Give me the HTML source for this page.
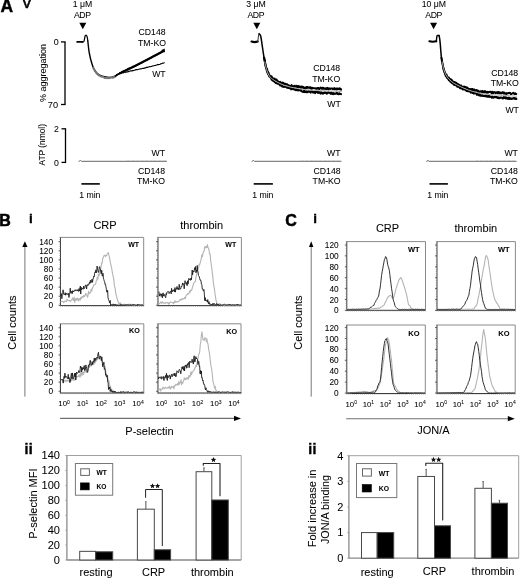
<!DOCTYPE html>
<html><head><meta charset="utf-8"><style>
html,body{margin:0;padding:0;background:#fff;}
svg{display:block;font-family:"Liberation Sans",sans-serif;filter:blur(0.3px);}
text{stroke:#000;stroke-width:0.05px;}
</style></head><body>
<svg width="520" height="579" viewBox="0 0 520 579">
<rect width="520" height="579" fill="#fff"/>
<text x="0.5" y="12.4" font-size="17.5" text-anchor="start" font-weight="bold" fill="#000" style="stroke-width:0.4px">A</text>
<text x="23" y="7.5" font-size="15.5" text-anchor="start" font-weight="normal" fill="#000" style="stroke-width:0.6px">v</text>
<text x="82.5" y="7.4" font-size="8.7" text-anchor="middle" font-weight="normal" fill="#000" >1 μM</text>
<text x="82.5" y="17.8" font-size="8.7" text-anchor="middle" font-weight="normal" fill="#000" textLength="17">ADP</text>
<path d="M79.3,22.8 L86.3,22.8 L82.8,29.3 Z" fill="#000"/>
<text x="256" y="7.4" font-size="8.7" text-anchor="middle" font-weight="normal" fill="#000" >3 μM</text>
<text x="256" y="17.8" font-size="8.7" text-anchor="middle" font-weight="normal" fill="#000" textLength="17">ADP</text>
<path d="M253.3,22.8 L260.3,22.8 L256.8,29.3 Z" fill="#000"/>
<text x="433.8" y="7.4" font-size="8.7" text-anchor="middle" font-weight="normal" fill="#000" >10 μM</text>
<text x="433.8" y="17.8" font-size="8.7" text-anchor="middle" font-weight="normal" fill="#000" textLength="17">ADP</text>
<path d="M430.1,22.8 L437.1,22.8 L433.6,29.3 Z" fill="#000"/>
<line x1="65" y1="41.9" x2="65" y2="104.5" stroke="#000" stroke-width="1.3" />
<line x1="61" y1="41.9" x2="65.6" y2="41.9" stroke="#000" stroke-width="1.3" />
<line x1="61" y1="104.5" x2="65.6" y2="104.5" stroke="#000" stroke-width="1.3" />
<text x="58.6" y="45.0" font-size="8.9" text-anchor="end" font-weight="normal" fill="#000" >0</text>
<text x="58.0" y="108.2" font-size="9.2" text-anchor="end" font-weight="normal" fill="#000" >70</text>
<text transform="translate(45.7,72.9) rotate(-90)" font-size="9" text-anchor="middle">% aggregation</text>
<line x1="65.5" y1="128.8" x2="65.5" y2="162.4" stroke="#000" stroke-width="1.3" />
<line x1="61.5" y1="128.8" x2="66.1" y2="128.8" stroke="#000" stroke-width="1.3" />
<line x1="61.5" y1="162.4" x2="66.1" y2="162.4" stroke="#000" stroke-width="1.3" />
<text x="58.8" y="131.9" font-size="8.7" text-anchor="end" font-weight="normal" fill="#000" >2</text>
<text x="58.8" y="165.5" font-size="8.7" text-anchor="end" font-weight="normal" fill="#000" >0</text>
<text transform="translate(45.2,144.8) rotate(-90)" font-size="8.4" text-anchor="middle">ATP (nmol)</text>
<path d="M77.2,41.9 L82.4,41.9" fill="none" stroke="#000" stroke-width="1.9" stroke-linejoin="round" stroke-linecap="round" />
<path d="M82.40,42.10 C82.65,42.00 83.52,42.18 83.90,41.50 C84.28,40.82 84.47,38.97 84.70,38.00 C84.93,37.03 85.00,36.13 85.30,35.70 C85.60,35.27 86.15,35.02 86.50,35.40 C86.85,35.78 87.18,37.07 87.40,38.00 C87.62,38.93 87.73,40.50 87.80,41.00" fill="none" stroke="#000" stroke-width="1.2" stroke-linejoin="round" stroke-linecap="round" />
<path d="M87.80,41.00 C87.97,42.47 88.47,47.38 88.80,49.80 C89.13,52.22 89.40,53.58 89.80,55.50 C90.20,57.42 90.65,59.37 91.20,61.30 C91.75,63.23 92.38,65.42 93.10,67.10 C93.82,68.78 94.62,70.20 95.50,71.40 C96.38,72.60 97.27,73.50 98.40,74.30 C99.53,75.10 100.85,75.72 102.30,76.20 C103.75,76.68 105.50,77.03 107.10,77.20 C108.70,77.37 110.47,77.45 111.90,77.20 C113.33,76.95 114.42,76.35 115.70,75.70 C116.98,75.05 118.95,73.70 119.60,73.30" fill="none" stroke="#000" stroke-width="1.4" stroke-linejoin="round" stroke-linecap="round" />
<path d="M93.10,67.76 L93.70,68.77 L94.30,69.64 L94.90,71.47 L95.50,71.71 L96.10,72.82 L96.70,73.84 L97.30,73.64 L97.90,74.74 L98.50,75.37 L99.10,75.08 L99.70,75.71 L100.30,76.33 L100.90,76.37 L101.50,76.94 L102.10,76.66 L102.70,76.92 L103.30,76.92 L103.90,77.44 L104.50,77.98 L105.10,77.77 L105.70,78.08 L106.30,77.82 L106.90,78.30 L107.50,77.69 L108.10,77.87 L108.70,78.24 L109.30,78.28 L109.90,77.96 L110.50,77.62 L111.10,77.78 L111.70,77.71 L112.30,77.61 L112.90,77.89 L113.50,77.03 L114.10,77.46 L114.70,77.20 L115.30,76.12" fill="none" stroke="#777" stroke-width="1.8" stroke-linejoin="round" stroke-linecap="round" />
<path d="M115.70,76.02 L116.30,75.64 L116.90,74.65 L117.50,74.30 L118.10,74.46 L118.70,74.02 L119.30,73.60 L119.90,73.00 L120.50,72.87 L121.10,72.53 L121.70,72.18 L122.30,71.54 L122.90,71.40 L123.50,71.03 L124.10,70.92 L124.70,70.82 L125.30,70.52 L125.90,69.97 L126.50,69.64 L127.10,69.26 L127.70,68.83 L128.30,68.56 L128.90,68.61 L129.50,68.24 L130.10,68.02 L130.70,68.12 L131.30,67.60 L131.90,67.36 L132.50,66.87 L133.10,66.46 L133.70,66.41 L134.30,65.99 L134.90,65.94 L135.50,65.98 L136.10,65.44 L136.70,64.79 L137.30,64.98 L137.90,64.60 L138.50,64.25 L139.10,64.06 L139.70,63.65 L140.30,63.36 L140.90,62.75 L141.50,62.88 L142.10,62.56 L142.70,61.69 L143.30,61.79 L143.90,61.46 L144.50,60.97 L145.10,60.71 L145.70,60.38 L146.30,60.37 L146.90,59.77 L147.50,59.69 L148.10,59.05 L148.70,59.10 L149.30,58.80 L149.90,58.17 L150.50,57.93 L151.10,57.86 L151.70,57.41 L152.30,56.93 L152.90,56.43 L153.50,56.19 L154.10,56.13 L154.70,55.44 L155.30,55.65 L155.90,54.89 L156.50,55.02 L157.10,54.28 L157.70,54.42 L158.30,53.93 L158.90,53.47 L159.50,53.17 L160.10,52.95 L160.70,52.59 L161.30,52.08 L161.90,51.69 L162.50,51.59 L163.10,51.57" fill="none" stroke="#000" stroke-width="1.5" stroke-linejoin="round" stroke-linecap="round" />
<path d="M120,73.2 L134,66.4 L148,59.2 L163.6,51" fill="none" stroke="#000" stroke-width="2.2" stroke-linejoin="round" stroke-linecap="round" />
<path d="M161,50.2 L164.6,48.6 L165,52.6 Z" fill="#000"/>
<path d="M115.70,75.59 L116.30,75.20 L116.90,75.21 L117.50,74.57 L118.10,74.55 L118.70,74.16 L119.30,73.68 L119.90,73.72 L120.50,73.26 L121.10,73.32 L121.70,72.93 L122.30,72.77 L122.90,72.79 L123.50,72.86 L124.10,72.26 L124.70,72.17 L125.30,72.29 L125.90,72.36 L126.50,72.01 L127.10,71.78 L127.70,72.00 L128.30,71.32 L128.90,71.68 L129.50,71.21 L130.10,71.00 L130.70,70.86 L131.30,70.85 L131.90,71.03 L132.50,70.52 L133.10,70.64 L133.70,70.55 L134.30,70.25 L134.90,70.22 L135.50,69.79 L136.10,69.66 L136.70,69.61 L137.30,69.75 L137.90,69.47 L138.50,69.26 L139.10,69.29 L139.70,69.07 L140.30,68.84 L140.90,69.00 L141.50,68.81 L142.10,68.40 L142.70,68.46 L143.30,68.29 L143.90,68.36 L144.50,68.14 L145.10,67.74 L145.70,68.01 L146.30,67.36 L146.90,67.40 L147.50,67.47 L148.10,66.97 L148.70,67.01 L149.30,66.58 L149.90,66.81 L150.50,66.71 L151.10,66.44 L151.70,66.46 L152.30,65.97 L152.90,66.04 L153.50,65.82 L154.10,65.66 L154.70,65.43 L155.30,65.50 L155.90,65.41 L156.50,64.97 L157.10,64.93 L157.70,64.41 L158.30,64.64 L158.90,64.45 L159.50,64.50 L160.10,64.24 L160.70,63.76 L161.30,63.67 L161.90,63.68 L162.50,63.13 L163.10,63.24 L163.70,62.91 L164.30,62.72" fill="none" stroke="#000" stroke-width="1.1" stroke-linejoin="round" stroke-linecap="round" />
<path d="M251.5,41.6 Q254.5,42.6 257.7,41.6" fill="none" stroke="#000" stroke-width="2.1" stroke-linejoin="round" stroke-linecap="round" />
<path d="M257.7,42 L258.9,33 L259.6,34" fill="none" stroke="#333" stroke-width="1.0" stroke-linejoin="round" stroke-linecap="round" />
<path d="M259.60,34.20 C259.80,34.58 260.42,34.97 260.80,36.50 C261.18,38.03 261.53,40.98 261.90,43.40 C262.27,45.82 262.63,48.55 263.00,51.00 C263.37,53.45 263.92,56.92 264.10,58.10" fill="none" stroke="#000" stroke-width="1.5" stroke-linejoin="round" stroke-linecap="round" />
<path d="M264.10,57.68 L264.60,60.60 L265.10,62.74 L265.60,65.54 L266.10,68.00 L266.60,68.23 L267.10,69.27 L267.60,71.71 L268.10,71.91 L268.60,73.00 L269.10,75.34 L269.60,75.20 L270.10,76.21 L270.60,76.05 L271.10,76.73 L271.60,76.37 L272.10,77.56 L272.60,78.35 L273.10,78.22 L273.60,78.98 L274.10,79.29 L274.60,78.60 L275.10,79.96 L275.60,79.95 L276.10,79.73 L276.60,79.55 L277.10,81.13 L277.60,80.76 L278.10,81.40 L278.60,81.91 L279.10,81.89 L279.60,82.47 L280.10,81.88 L280.60,82.78 L281.10,82.46 L281.60,83.50 L282.10,83.66 L282.60,82.57 L283.10,82.78 L283.60,83.06 L284.10,84.41 L284.60,83.71 L285.10,84.16 L285.60,83.79 L286.10,84.27 L286.60,84.22 L287.10,84.31 L287.60,84.84 L288.10,84.98 L288.60,85.64 L289.10,85.44 L289.60,85.98 L290.10,86.01 L290.60,86.33 L291.10,85.90 L291.60,85.16 L292.10,86.36 L292.60,86.60 L293.10,86.58 L293.60,86.12 L294.10,86.43 L294.60,85.70 L295.10,86.77 L295.60,86.44 L296.10,86.06 L296.60,85.78 L297.10,87.12 L297.60,87.42 L298.10,86.05 L298.60,87.27 L299.10,86.72 L299.60,86.38 L300.10,86.69 L300.60,87.53 L301.10,87.77 L301.60,86.52 L302.10,87.51 L302.60,86.68 L303.10,87.83 L303.60,87.25 L304.10,88.16 L304.60,88.35 L305.10,87.61 L305.60,88.43 L306.10,87.36 L306.60,87.01 L307.10,87.88 L307.60,86.99 L308.10,87.29 L308.60,87.65 L309.10,88.00 L309.60,87.31 L310.10,87.15 L310.60,88.50 L311.10,87.64 L311.60,88.70 L312.10,88.63 L312.60,87.83 L313.10,87.99 L313.60,88.11 L314.10,88.34 L314.60,88.29 L315.10,88.26 L315.60,88.38 L316.10,88.92 L316.60,88.26 L317.10,88.16 L317.60,88.65 L318.10,87.91 L318.60,88.04 L319.10,89.15 L319.60,88.44 L320.10,88.50 L320.60,87.66 L321.10,88.32 L321.60,88.60 L322.10,87.72 L322.60,88.69 L323.10,88.73 L323.60,87.83 L324.10,88.75 L324.60,88.51 L325.10,88.87 L325.60,88.36 L326.10,88.94 L326.60,89.01 L327.10,87.88 L327.60,87.96 L328.10,88.96 L328.60,89.43 L329.10,88.31 L329.60,88.65 L330.10,88.89 L330.60,88.47 L331.10,88.55 L331.60,88.49 L332.10,88.59 L332.60,88.97 L333.10,88.51 L333.60,88.65 L334.10,89.30 L334.60,88.12 L335.10,89.01 L335.60,89.29 L336.10,88.62 L336.60,88.50 L337.10,89.45 L337.60,88.56 L338.10,88.49 L338.60,88.90 L339.10,89.34 L339.60,88.40 L340.10,88.77 L340.60,88.81 L341.10,89.62" fill="none" stroke="#000" stroke-width="2.0" stroke-linejoin="round" stroke-linecap="round" />
<path d="M264.10,57.68 L264.60,60.09 L265.10,63.18 L265.60,65.42 L266.10,67.91 L266.60,69.71 L267.10,71.80 L267.60,72.88 L268.10,74.09 L268.60,74.48 L269.10,76.25 L269.60,76.64 L270.10,76.96 L270.60,77.34 L271.10,78.01 L271.60,79.64 L272.10,79.97 L272.60,80.42 L273.10,80.90 L273.60,80.42 L274.10,81.10 L274.60,81.92 L275.10,82.37 L275.60,82.84 L276.10,83.15 L276.60,82.16 L277.10,83.26 L277.60,83.64 L278.10,83.65 L278.60,83.40 L279.10,84.15 L279.60,83.81 L280.10,85.44 L280.60,85.60 L281.10,85.37 L281.60,85.25 L282.10,86.50 L282.60,86.14 L283.10,86.79 L283.60,86.89 L284.10,86.50 L284.60,86.50 L285.10,86.95 L285.60,86.84 L286.10,86.56 L286.60,86.95 L287.10,87.91 L287.60,86.84 L288.10,87.00 L288.60,88.08 L289.10,87.68 L289.60,88.24 L290.10,88.29 L290.60,88.21 L291.10,89.37 L291.60,88.20 L292.10,88.65 L292.60,88.42 L293.10,89.22 L293.60,88.76 L294.10,88.99 L294.60,89.73 L295.10,89.15 L295.60,89.64 L296.10,90.31 L296.60,89.13 L297.10,89.17 L297.60,89.55 L298.10,90.52 L298.60,90.39 L299.10,89.89 L299.60,90.15 L300.10,90.01 L300.60,90.57 L301.10,90.01 L301.60,91.17 L302.10,91.59 L302.60,91.80 L303.10,91.55 L303.60,91.98 L304.10,90.52 L304.60,91.00 L305.10,92.13 L305.60,91.88 L306.10,91.34 L306.60,92.25 L307.10,91.78 L307.60,92.14 L308.10,91.35 L308.60,91.24 L309.10,91.69 L309.60,91.25 L310.10,91.69 L310.60,92.67 L311.10,91.71 L311.60,91.24 L312.10,91.35 L312.60,91.60 L313.10,92.63 L313.60,92.01 L314.10,91.94 L314.60,91.68 L315.10,93.15 L315.60,92.30 L316.10,92.01 L316.60,91.82 L317.10,91.86 L317.60,92.09 L318.10,92.95 L318.60,92.16 L319.10,92.04 L319.60,92.79 L320.10,92.42 L320.60,93.64 L321.10,92.26 L321.60,92.93 L322.10,93.34 L322.60,92.77 L323.10,93.71 L323.60,92.92 L324.10,92.56 L324.60,92.85 L325.10,92.27 L325.60,92.90 L326.10,92.64 L326.60,93.68 L327.10,93.61 L327.60,93.09 L328.10,92.37 L328.60,92.74 L329.10,92.74 L329.60,92.70 L330.10,92.76 L330.60,93.80 L331.10,92.65 L331.60,92.52 L332.10,93.94 L332.60,93.38 L333.10,94.08 L333.60,93.16 L334.10,93.97 L334.60,93.60 L335.10,93.83 L335.60,93.78 L336.10,93.40 L336.60,92.77 L337.10,92.98 L337.60,94.06 L338.10,94.12 L338.60,94.17 L339.10,93.25 L339.60,93.78 L340.10,94.03 L340.60,93.80 L341.10,94.09" fill="none" stroke="#000" stroke-width="2.0" stroke-linejoin="round" stroke-linecap="round" />
<path d="M264.80,62.00 C265.10,63.25 265.85,67.17 266.60,69.50 C267.35,71.83 268.03,74.20 269.30,76.00 C270.57,77.80 272.05,78.88 274.20,80.30 C276.35,81.72 279.52,83.38 282.20,84.50 C284.88,85.62 286.80,86.18 290.30,87.00 C293.80,87.82 298.35,88.80 303.20,89.40 C308.05,90.00 313.02,90.27 319.40,90.60 C325.78,90.93 337.82,91.27 341.50,91.40" fill="none" stroke="#aaa" stroke-width="1.0" stroke-linejoin="round" stroke-linecap="round" />
<path d="M429.4,41.3 Q432.5,42.2 436.3,41.3" fill="none" stroke="#000" stroke-width="2.1" stroke-linejoin="round" stroke-linecap="round" />
<path d="M436.3,41.5 L436.9,36 L437.5,35.4 L439,35.5" fill="none" stroke="#000" stroke-width="1.4" stroke-linejoin="round" stroke-linecap="round" />
<path d="M439.00,35.50 C439.10,35.92 439.40,36.68 439.60,38.00 C439.80,39.32 440.02,41.48 440.20,43.40 C440.38,45.32 440.50,47.20 440.70,49.50 C440.90,51.80 440.97,54.15 441.40,57.20 C441.83,60.25 442.98,66.03 443.30,67.80" fill="none" stroke="#000" stroke-width="1.5" stroke-linejoin="round" stroke-linecap="round" />
<path d="M443.30,68.00 L443.80,69.52 L444.30,70.94 L444.80,72.51 L445.30,73.52 L445.80,75.00 L446.30,74.22 L446.80,75.55 L447.30,76.96 L447.80,77.13 L448.30,78.17 L448.80,77.55 L449.30,78.58 L449.80,78.63 L450.30,79.51 L450.80,79.97 L451.30,79.48 L451.80,80.21 L452.30,80.72 L452.80,82.15 L453.30,82.32 L453.80,81.76 L454.30,83.03 L454.80,82.22 L455.30,83.24 L455.80,82.70 L456.30,82.75 L456.80,84.39 L457.30,83.59 L457.80,83.84 L458.30,85.32 L458.80,85.40 L459.30,84.71 L459.80,86.04 L460.30,85.60 L460.80,86.03 L461.30,85.48 L461.80,86.86 L462.30,86.66 L462.80,87.31 L463.30,87.39 L463.80,86.64 L464.30,86.95 L464.80,86.84 L465.30,87.01 L465.80,87.09 L466.30,87.67 L466.80,88.35 L467.30,87.60 L467.80,88.88 L468.30,88.54 L468.80,88.62 L469.30,89.56 L469.80,89.14 L470.30,89.00 L470.80,89.39 L471.30,89.87 L471.80,88.96 L472.30,90.55 L472.80,89.15 L473.30,90.44 L473.80,90.71 L474.30,89.51 L474.80,90.87 L475.30,90.32 L475.80,90.78 L476.30,89.99 L476.80,90.18 L477.30,90.52 L477.80,91.88 L478.30,90.74 L478.80,91.69 L479.30,92.01 L479.80,92.08 L480.30,91.17 L480.80,91.24 L481.30,91.56 L481.80,92.01 L482.30,90.99 L482.80,92.06 L483.30,92.19 L483.80,92.34 L484.30,91.07 L484.80,92.58 L485.30,91.26 L485.80,91.70 L486.30,92.19 L486.80,92.73 L487.30,91.85 L487.80,92.83 L488.30,92.27 L488.80,91.95 L489.30,92.01 L489.80,91.81 L490.30,91.67 L490.80,91.80 L491.30,92.69 L491.80,93.21 L492.30,91.89 L492.80,91.73 L493.30,93.26 L493.80,92.55 L494.30,92.37 L494.80,92.12 L495.30,92.72 L495.80,93.11 L496.30,92.54 L496.80,92.51 L497.30,91.94 L497.80,93.34 L498.30,91.95 L498.80,92.71 L499.30,93.28 L499.80,92.17 L500.30,93.16 L500.80,93.53 L501.30,93.04 L501.80,93.32 L502.30,92.26 L502.80,92.81 L503.30,92.37 L503.80,93.51 L504.30,92.66 L504.80,92.94 L505.30,93.84 L505.80,93.63 L506.30,93.85 L506.80,93.04 L507.30,93.12 L507.80,93.53 L508.30,93.15 L508.80,92.88 L509.30,93.08 L509.80,92.70 L510.30,93.09 L510.80,94.09 L511.30,94.07 L511.80,93.57 L512.30,93.39 L512.80,93.16 L513.30,92.78 L513.80,93.10 L514.30,93.94 L514.80,94.10 L515.30,93.32 L515.80,94.02 L516.30,94.03" fill="none" stroke="#000" stroke-width="2.0" stroke-linejoin="round" stroke-linecap="round" />
<path d="M441.40,57.67 L441.90,60.72 L442.40,63.18 L442.90,65.82 L443.40,68.09 L443.90,70.59 L444.40,71.71 L444.90,73.62 L445.40,74.43 L445.90,76.21 L446.40,76.10 L446.90,77.63 L447.40,78.21 L447.90,78.39 L448.40,79.27 L448.90,80.19 L449.40,79.85 L449.90,80.86 L450.40,81.70 L450.90,81.28 L451.40,82.58 L451.90,82.83 L452.40,83.52 L452.90,83.15 L453.40,83.20 L453.90,84.73 L454.40,85.00 L454.90,84.68 L455.40,84.38 L455.90,84.80 L456.40,85.76 L456.90,85.46 L457.40,86.78 L457.90,86.46 L458.40,86.09 L458.90,87.08 L459.40,86.86 L459.90,88.04 L460.40,88.25 L460.90,87.84 L461.40,88.28 L461.90,88.59 L462.40,88.99 L462.90,89.50 L463.40,88.21 L463.90,88.97 L464.40,89.58 L464.90,89.33 L465.40,90.02 L465.90,89.45 L466.40,90.94 L466.90,90.60 L467.40,90.18 L467.90,91.28 L468.40,90.93 L468.90,90.91 L469.40,91.54 L469.90,91.15 L470.40,91.43 L470.90,92.64 L471.40,92.54 L471.90,91.61 L472.40,93.00 L472.90,91.94 L473.40,92.62 L473.90,93.69 L474.40,93.40 L474.90,93.07 L475.40,93.35 L475.90,93.53 L476.40,93.28 L476.90,94.84 L477.40,93.49 L477.90,94.24 L478.40,94.88 L478.90,94.43 L479.40,95.47 L479.90,94.40 L480.40,95.68 L480.90,95.64 L481.40,95.39 L481.90,95.85 L482.40,95.25 L482.90,95.97 L483.40,96.02 L483.90,95.68 L484.40,95.71 L484.90,96.19 L485.40,95.83 L485.90,95.42 L486.40,96.58 L486.90,95.92 L487.40,96.38 L487.90,96.96 L488.40,96.08 L488.90,95.95 L489.40,96.21 L489.90,96.99 L490.40,96.67 L490.90,96.54 L491.40,96.89 L491.90,97.69 L492.40,96.65 L492.90,96.94 L493.40,97.73 L493.90,97.35 L494.40,96.83 L494.90,97.21 L495.40,97.25 L495.90,96.75 L496.40,97.17 L496.90,97.09 L497.40,97.93 L497.90,97.20 L498.40,97.78 L498.90,98.32 L499.40,98.28 L499.90,97.45 L500.40,97.85 L500.90,97.43 L501.40,97.59 L501.90,97.77 L502.40,98.29 L502.90,98.56 L503.40,97.56 L503.90,97.14 L504.40,97.88 L504.90,97.29 L505.40,97.28 L505.90,98.50 L506.40,97.48 L506.90,98.49 L507.40,97.95 L507.90,98.91 L508.40,98.81 L508.90,97.57 L509.40,97.82 L509.90,99.06 L510.40,98.56 L510.90,98.29 L511.40,98.90 L511.90,98.98 L512.40,98.50 L512.90,98.50 L513.40,97.95 L513.90,98.40 L514.40,98.09 L514.90,98.89 L515.40,98.89 L515.90,98.19 L516.40,99.00" fill="none" stroke="#000" stroke-width="2.0" stroke-linejoin="round" stroke-linecap="round" />
<path d="M442.20,62.00 C442.47,63.25 443.17,67.33 443.80,69.50 C444.43,71.67 445.15,73.40 446.00,75.00 C446.85,76.60 447.60,77.73 448.90,79.10 C450.20,80.47 451.92,81.97 453.80,83.20 C455.68,84.43 457.78,85.37 460.20,86.50 C462.62,87.63 465.33,88.95 468.30,90.00 C471.27,91.05 474.50,92.05 478.00,92.80 C481.50,93.55 485.53,94.10 489.30,94.50 C493.07,94.90 496.07,94.92 500.60,95.20 C505.13,95.48 513.85,96.03 516.50,96.20" fill="none" stroke="#aaa" stroke-width="1.0" stroke-linejoin="round" stroke-linecap="round" />
<text x="165.6" y="34.8" font-size="8.7" text-anchor="end" font-weight="normal" fill="#000" >CD148</text>
<text x="166.0" y="45.9" font-size="8.7" text-anchor="end" font-weight="normal" fill="#000" >TM-KO</text>
<text x="165.7" y="77" font-size="8.7" text-anchor="end" font-weight="normal" fill="#000" >WT</text>
<text x="340.2" y="71.1" font-size="8.7" text-anchor="end" font-weight="normal" fill="#000" >CD148</text>
<text x="340.2" y="81.6" font-size="8.7" text-anchor="end" font-weight="normal" fill="#000" >TM-KO</text>
<text x="340.8" y="106.5" font-size="8.7" text-anchor="end" font-weight="normal" fill="#000" >WT</text>
<text x="518.2" y="75.9" font-size="8.7" text-anchor="end" font-weight="normal" fill="#000" >CD148</text>
<text x="518.8" y="86.4" font-size="8.7" text-anchor="end" font-weight="normal" fill="#000" >TM-KO</text>
<text x="518.9" y="112.5" font-size="8.7" text-anchor="end" font-weight="normal" fill="#000" >WT</text>
<path d="M79,161.3 l1.5,-0.8 l1,0.8 L166.5,161.3" fill="none" stroke="#555" stroke-width="0.9" stroke-linejoin="round" stroke-linecap="round" />
<path d="M127.125,161.3 L166.5,161.3" fill="none" stroke="#888" stroke-width="1.0" stroke-linejoin="round" stroke-linecap="round" stroke-dasharray="2.5,2"/>
<text x="165" y="156.3" font-size="8.7" text-anchor="end" font-weight="normal" fill="#000" >WT</text>
<text x="165" y="173.9" font-size="8.7" text-anchor="end" font-weight="normal" fill="#000" >CD148</text>
<text x="165" y="184.1" font-size="8.7" text-anchor="end" font-weight="normal" fill="#000" >TM-KO</text>
<line x1="81.4" y1="183.9" x2="99.8" y2="183.9" stroke="#000" stroke-width="1.6" />
<text x="79.2" y="197.6" font-size="8.7" text-anchor="start" font-weight="normal" fill="#000" >1 min</text>
<path d="M252,161.3 l1.5,-0.8 l1,0.8 L341,161.3" fill="none" stroke="#555" stroke-width="0.9" stroke-linejoin="round" stroke-linecap="round" />
<path d="M300.95,161.3 L341,161.3" fill="none" stroke="#888" stroke-width="1.0" stroke-linejoin="round" stroke-linecap="round" stroke-dasharray="2.5,2"/>
<text x="340.6" y="156.3" font-size="8.7" text-anchor="end" font-weight="normal" fill="#000" >WT</text>
<text x="340.6" y="173.9" font-size="8.7" text-anchor="end" font-weight="normal" fill="#000" >CD148</text>
<text x="340.6" y="184.1" font-size="8.7" text-anchor="end" font-weight="normal" fill="#000" >TM-KO</text>
<line x1="253.7" y1="183.9" x2="272.90000000000003" y2="183.9" stroke="#000" stroke-width="1.6" />
<text x="252.2" y="197.6" font-size="8.7" text-anchor="start" font-weight="normal" fill="#000" >1 min</text>
<path d="M426.6,161.3 l1.5,-0.8 l1,0.8 L516.2,161.3" fill="none" stroke="#555" stroke-width="0.9" stroke-linejoin="round" stroke-linecap="round" />
<path d="M475.88000000000005,161.3 L516.2,161.3" fill="none" stroke="#888" stroke-width="1.0" stroke-linejoin="round" stroke-linecap="round" stroke-dasharray="2.5,2"/>
<text x="517.9" y="156.3" font-size="8.7" text-anchor="end" font-weight="normal" fill="#000" >WT</text>
<text x="517.9" y="173.9" font-size="8.7" text-anchor="end" font-weight="normal" fill="#000" >CD148</text>
<text x="517.9" y="184.1" font-size="8.7" text-anchor="end" font-weight="normal" fill="#000" >TM-KO</text>
<line x1="429.5" y1="183.9" x2="447.90000000000003" y2="183.9" stroke="#000" stroke-width="1.6" />
<text x="427.2" y="197.6" font-size="8.7" text-anchor="start" font-weight="normal" fill="#000" >1 min</text>
<text x="-0.7" y="226.0" font-size="16" text-anchor="start" font-weight="bold" fill="#000" style="stroke-width:0.5px">B</text>
<text x="28.9" y="223.4" font-size="13.5" text-anchor="start" font-weight="bold" fill="#000" style="stroke-width:0.3px">i</text>
<text x="285.3" y="226.2" font-size="16" text-anchor="start" font-weight="bold" fill="#000" style="stroke-width:0.5px">C</text>
<text x="313.3" y="223.2" font-size="13.5" text-anchor="start" font-weight="bold" fill="#000" style="stroke-width:0.3px">i</text>
<text x="105" y="228.8" font-size="11" text-anchor="middle" font-weight="normal" fill="#000" >CRP</text>
<text x="201.7" y="228.8" font-size="11" text-anchor="middle" font-weight="normal" fill="#000" >thrombin</text>
<text x="387.5" y="231.8" font-size="11" text-anchor="middle" font-weight="normal" fill="#000" >CRP</text>
<text x="475.8" y="231.8" font-size="11" text-anchor="middle" font-weight="normal" fill="#000" >thrombin</text>
<line x1="60.5" y1="237.4" x2="143.7" y2="237.4" stroke="#8a8a8a" stroke-width="1.0" />
<line x1="143.7" y1="237.4" x2="143.7" y2="305.6" stroke="#8a8a8a" stroke-width="1.0" />
<line x1="60.5" y1="237.4" x2="60.5" y2="305.6" stroke="#444" stroke-width="1.0" />
<line x1="60.5" y1="305.6" x2="143.7" y2="305.6" stroke="#333" stroke-width="1.0" />
<line x1="59.3" y1="237.4" x2="60.5" y2="237.4" stroke="#666" stroke-width="0.5" />
<line x1="59.3" y1="239.67333333333335" x2="60.5" y2="239.67333333333335" stroke="#666" stroke-width="0.5" />
<line x1="59.3" y1="241.9466666666667" x2="60.5" y2="241.9466666666667" stroke="#666" stroke-width="0.5" />
<line x1="59.3" y1="244.22" x2="60.5" y2="244.22" stroke="#666" stroke-width="0.5" />
<line x1="59.3" y1="246.49333333333334" x2="60.5" y2="246.49333333333334" stroke="#666" stroke-width="0.5" />
<line x1="59.3" y1="248.76666666666668" x2="60.5" y2="248.76666666666668" stroke="#666" stroke-width="0.5" />
<line x1="59.3" y1="251.04000000000002" x2="60.5" y2="251.04000000000002" stroke="#666" stroke-width="0.5" />
<line x1="59.3" y1="253.31333333333333" x2="60.5" y2="253.31333333333333" stroke="#666" stroke-width="0.5" />
<line x1="59.3" y1="255.58666666666667" x2="60.5" y2="255.58666666666667" stroke="#666" stroke-width="0.5" />
<line x1="59.3" y1="257.86" x2="60.5" y2="257.86" stroke="#666" stroke-width="0.5" />
<line x1="59.3" y1="260.1333333333333" x2="60.5" y2="260.1333333333333" stroke="#666" stroke-width="0.5" />
<line x1="59.3" y1="262.4066666666667" x2="60.5" y2="262.4066666666667" stroke="#666" stroke-width="0.5" />
<line x1="59.3" y1="264.68" x2="60.5" y2="264.68" stroke="#666" stroke-width="0.5" />
<line x1="59.3" y1="266.9533333333334" x2="60.5" y2="266.9533333333334" stroke="#666" stroke-width="0.5" />
<line x1="59.3" y1="269.2266666666667" x2="60.5" y2="269.2266666666667" stroke="#666" stroke-width="0.5" />
<line x1="59.3" y1="271.5" x2="60.5" y2="271.5" stroke="#666" stroke-width="0.5" />
<line x1="59.3" y1="273.77333333333337" x2="60.5" y2="273.77333333333337" stroke="#666" stroke-width="0.5" />
<line x1="59.3" y1="276.0466666666667" x2="60.5" y2="276.0466666666667" stroke="#666" stroke-width="0.5" />
<line x1="59.3" y1="278.32" x2="60.5" y2="278.32" stroke="#666" stroke-width="0.5" />
<line x1="59.3" y1="280.59333333333336" x2="60.5" y2="280.59333333333336" stroke="#666" stroke-width="0.5" />
<line x1="59.3" y1="282.8666666666667" x2="60.5" y2="282.8666666666667" stroke="#666" stroke-width="0.5" />
<line x1="59.3" y1="285.14" x2="60.5" y2="285.14" stroke="#666" stroke-width="0.5" />
<line x1="59.3" y1="287.41333333333336" x2="60.5" y2="287.41333333333336" stroke="#666" stroke-width="0.5" />
<line x1="59.3" y1="289.68666666666667" x2="60.5" y2="289.68666666666667" stroke="#666" stroke-width="0.5" />
<line x1="59.3" y1="291.96000000000004" x2="60.5" y2="291.96000000000004" stroke="#666" stroke-width="0.5" />
<line x1="59.3" y1="294.23333333333335" x2="60.5" y2="294.23333333333335" stroke="#666" stroke-width="0.5" />
<line x1="59.3" y1="296.50666666666666" x2="60.5" y2="296.50666666666666" stroke="#666" stroke-width="0.5" />
<line x1="59.3" y1="298.78000000000003" x2="60.5" y2="298.78000000000003" stroke="#666" stroke-width="0.5" />
<line x1="59.3" y1="301.05333333333334" x2="60.5" y2="301.05333333333334" stroke="#666" stroke-width="0.5" />
<line x1="59.3" y1="303.3266666666667" x2="60.5" y2="303.3266666666667" stroke="#666" stroke-width="0.5" />
<line x1="59.3" y1="305.6" x2="60.5" y2="305.6" stroke="#666" stroke-width="0.5" />
<line x1="60.5" y1="305.6" x2="60.5" y2="306.8" stroke="#777" stroke-width="0.5" />
<line x1="62.58" y1="305.6" x2="62.58" y2="306.8" stroke="#777" stroke-width="0.5" />
<line x1="64.66" y1="305.6" x2="64.66" y2="306.8" stroke="#777" stroke-width="0.5" />
<line x1="66.74" y1="305.6" x2="66.74" y2="306.8" stroke="#777" stroke-width="0.5" />
<line x1="68.82" y1="305.6" x2="68.82" y2="306.8" stroke="#777" stroke-width="0.5" />
<line x1="70.9" y1="305.6" x2="70.9" y2="306.8" stroke="#777" stroke-width="0.5" />
<line x1="72.98" y1="305.6" x2="72.98" y2="306.8" stroke="#777" stroke-width="0.5" />
<line x1="75.06" y1="305.6" x2="75.06" y2="306.8" stroke="#777" stroke-width="0.5" />
<line x1="77.14" y1="305.6" x2="77.14" y2="306.8" stroke="#777" stroke-width="0.5" />
<line x1="79.22" y1="305.6" x2="79.22" y2="306.8" stroke="#777" stroke-width="0.5" />
<line x1="81.3" y1="305.6" x2="81.3" y2="306.8" stroke="#777" stroke-width="0.5" />
<line x1="83.38" y1="305.6" x2="83.38" y2="306.8" stroke="#777" stroke-width="0.5" />
<line x1="85.46" y1="305.6" x2="85.46" y2="306.8" stroke="#777" stroke-width="0.5" />
<line x1="87.53999999999999" y1="305.6" x2="87.53999999999999" y2="306.8" stroke="#777" stroke-width="0.5" />
<line x1="89.61999999999999" y1="305.6" x2="89.61999999999999" y2="306.8" stroke="#777" stroke-width="0.5" />
<line x1="91.69999999999999" y1="305.6" x2="91.69999999999999" y2="306.8" stroke="#777" stroke-width="0.5" />
<line x1="93.78" y1="305.6" x2="93.78" y2="306.8" stroke="#777" stroke-width="0.5" />
<line x1="95.86" y1="305.6" x2="95.86" y2="306.8" stroke="#777" stroke-width="0.5" />
<line x1="97.94" y1="305.6" x2="97.94" y2="306.8" stroke="#777" stroke-width="0.5" />
<line x1="100.02" y1="305.6" x2="100.02" y2="306.8" stroke="#777" stroke-width="0.5" />
<line x1="102.1" y1="305.6" x2="102.1" y2="306.8" stroke="#777" stroke-width="0.5" />
<line x1="104.17999999999999" y1="305.6" x2="104.17999999999999" y2="306.8" stroke="#777" stroke-width="0.5" />
<line x1="106.25999999999999" y1="305.6" x2="106.25999999999999" y2="306.8" stroke="#777" stroke-width="0.5" />
<line x1="108.33999999999999" y1="305.6" x2="108.33999999999999" y2="306.8" stroke="#777" stroke-width="0.5" />
<line x1="110.41999999999999" y1="305.6" x2="110.41999999999999" y2="306.8" stroke="#777" stroke-width="0.5" />
<line x1="112.49999999999999" y1="305.6" x2="112.49999999999999" y2="306.8" stroke="#777" stroke-width="0.5" />
<line x1="114.58" y1="305.6" x2="114.58" y2="306.8" stroke="#777" stroke-width="0.5" />
<line x1="116.66" y1="305.6" x2="116.66" y2="306.8" stroke="#777" stroke-width="0.5" />
<line x1="118.73999999999998" y1="305.6" x2="118.73999999999998" y2="306.8" stroke="#777" stroke-width="0.5" />
<line x1="120.82" y1="305.6" x2="120.82" y2="306.8" stroke="#777" stroke-width="0.5" />
<line x1="122.89999999999999" y1="305.6" x2="122.89999999999999" y2="306.8" stroke="#777" stroke-width="0.5" />
<line x1="124.97999999999999" y1="305.6" x2="124.97999999999999" y2="306.8" stroke="#777" stroke-width="0.5" />
<line x1="127.05999999999999" y1="305.6" x2="127.05999999999999" y2="306.8" stroke="#777" stroke-width="0.5" />
<line x1="129.14" y1="305.6" x2="129.14" y2="306.8" stroke="#777" stroke-width="0.5" />
<line x1="131.22" y1="305.6" x2="131.22" y2="306.8" stroke="#777" stroke-width="0.5" />
<line x1="133.29999999999998" y1="305.6" x2="133.29999999999998" y2="306.8" stroke="#777" stroke-width="0.5" />
<line x1="135.38" y1="305.6" x2="135.38" y2="306.8" stroke="#777" stroke-width="0.5" />
<line x1="137.45999999999998" y1="305.6" x2="137.45999999999998" y2="306.8" stroke="#777" stroke-width="0.5" />
<line x1="139.54" y1="305.6" x2="139.54" y2="306.8" stroke="#777" stroke-width="0.5" />
<line x1="141.62" y1="305.6" x2="141.62" y2="306.8" stroke="#777" stroke-width="0.5" />
<line x1="143.7" y1="305.6" x2="143.7" y2="306.8" stroke="#777" stroke-width="0.5" />
<line x1="58.5" y1="241.7" x2="60.5" y2="241.7" stroke="#444" stroke-width="0.8" />
<text x="53.1" y="244.7" font-size="8.3" text-anchor="end" font-weight="normal" fill="#000" >140</text>
<line x1="58.5" y1="250.78" x2="60.5" y2="250.78" stroke="#444" stroke-width="0.8" />
<text x="53.1" y="253.78" font-size="8.3" text-anchor="end" font-weight="normal" fill="#000" >120</text>
<line x1="58.5" y1="259.86" x2="60.5" y2="259.86" stroke="#444" stroke-width="0.8" />
<text x="53.1" y="262.86" font-size="8.3" text-anchor="end" font-weight="normal" fill="#000" >100</text>
<line x1="58.5" y1="268.94" x2="60.5" y2="268.94" stroke="#444" stroke-width="0.8" />
<text x="53.1" y="271.94" font-size="8.3" text-anchor="end" font-weight="normal" fill="#000" >80</text>
<line x1="58.5" y1="278.02" x2="60.5" y2="278.02" stroke="#444" stroke-width="0.8" />
<text x="53.1" y="281.02" font-size="8.3" text-anchor="end" font-weight="normal" fill="#000" >60</text>
<line x1="58.5" y1="287.09999999999997" x2="60.5" y2="287.09999999999997" stroke="#444" stroke-width="0.8" />
<text x="53.1" y="290.09999999999997" font-size="8.3" text-anchor="end" font-weight="normal" fill="#000" >40</text>
<line x1="58.5" y1="296.18" x2="60.5" y2="296.18" stroke="#444" stroke-width="0.8" />
<text x="53.1" y="299.18" font-size="8.3" text-anchor="end" font-weight="normal" fill="#000" >20</text>
<line x1="58.5" y1="305.26" x2="60.5" y2="305.26" stroke="#444" stroke-width="0.8" />
<text x="53.1" y="308.26" font-size="8.3" text-anchor="end" font-weight="normal" fill="#000" >0</text>
<text x="139.1" y="246.9" font-size="7" text-anchor="end" font-weight="bold" fill="#000" >WT</text>
<line x1="158" y1="237.4" x2="241.4" y2="237.4" stroke="#8a8a8a" stroke-width="1.0" />
<line x1="241.4" y1="237.4" x2="241.4" y2="305.6" stroke="#8a8a8a" stroke-width="1.0" />
<line x1="158" y1="237.4" x2="158" y2="305.6" stroke="#444" stroke-width="1.0" />
<line x1="158" y1="305.6" x2="241.4" y2="305.6" stroke="#333" stroke-width="1.0" />
<line x1="156.8" y1="237.4" x2="158" y2="237.4" stroke="#666" stroke-width="0.5" />
<line x1="156.8" y1="239.67333333333335" x2="158" y2="239.67333333333335" stroke="#666" stroke-width="0.5" />
<line x1="156.8" y1="241.9466666666667" x2="158" y2="241.9466666666667" stroke="#666" stroke-width="0.5" />
<line x1="156.8" y1="244.22" x2="158" y2="244.22" stroke="#666" stroke-width="0.5" />
<line x1="156.8" y1="246.49333333333334" x2="158" y2="246.49333333333334" stroke="#666" stroke-width="0.5" />
<line x1="156.8" y1="248.76666666666668" x2="158" y2="248.76666666666668" stroke="#666" stroke-width="0.5" />
<line x1="156.8" y1="251.04000000000002" x2="158" y2="251.04000000000002" stroke="#666" stroke-width="0.5" />
<line x1="156.8" y1="253.31333333333333" x2="158" y2="253.31333333333333" stroke="#666" stroke-width="0.5" />
<line x1="156.8" y1="255.58666666666667" x2="158" y2="255.58666666666667" stroke="#666" stroke-width="0.5" />
<line x1="156.8" y1="257.86" x2="158" y2="257.86" stroke="#666" stroke-width="0.5" />
<line x1="156.8" y1="260.1333333333333" x2="158" y2="260.1333333333333" stroke="#666" stroke-width="0.5" />
<line x1="156.8" y1="262.4066666666667" x2="158" y2="262.4066666666667" stroke="#666" stroke-width="0.5" />
<line x1="156.8" y1="264.68" x2="158" y2="264.68" stroke="#666" stroke-width="0.5" />
<line x1="156.8" y1="266.9533333333334" x2="158" y2="266.9533333333334" stroke="#666" stroke-width="0.5" />
<line x1="156.8" y1="269.2266666666667" x2="158" y2="269.2266666666667" stroke="#666" stroke-width="0.5" />
<line x1="156.8" y1="271.5" x2="158" y2="271.5" stroke="#666" stroke-width="0.5" />
<line x1="156.8" y1="273.77333333333337" x2="158" y2="273.77333333333337" stroke="#666" stroke-width="0.5" />
<line x1="156.8" y1="276.0466666666667" x2="158" y2="276.0466666666667" stroke="#666" stroke-width="0.5" />
<line x1="156.8" y1="278.32" x2="158" y2="278.32" stroke="#666" stroke-width="0.5" />
<line x1="156.8" y1="280.59333333333336" x2="158" y2="280.59333333333336" stroke="#666" stroke-width="0.5" />
<line x1="156.8" y1="282.8666666666667" x2="158" y2="282.8666666666667" stroke="#666" stroke-width="0.5" />
<line x1="156.8" y1="285.14" x2="158" y2="285.14" stroke="#666" stroke-width="0.5" />
<line x1="156.8" y1="287.41333333333336" x2="158" y2="287.41333333333336" stroke="#666" stroke-width="0.5" />
<line x1="156.8" y1="289.68666666666667" x2="158" y2="289.68666666666667" stroke="#666" stroke-width="0.5" />
<line x1="156.8" y1="291.96000000000004" x2="158" y2="291.96000000000004" stroke="#666" stroke-width="0.5" />
<line x1="156.8" y1="294.23333333333335" x2="158" y2="294.23333333333335" stroke="#666" stroke-width="0.5" />
<line x1="156.8" y1="296.50666666666666" x2="158" y2="296.50666666666666" stroke="#666" stroke-width="0.5" />
<line x1="156.8" y1="298.78000000000003" x2="158" y2="298.78000000000003" stroke="#666" stroke-width="0.5" />
<line x1="156.8" y1="301.05333333333334" x2="158" y2="301.05333333333334" stroke="#666" stroke-width="0.5" />
<line x1="156.8" y1="303.3266666666667" x2="158" y2="303.3266666666667" stroke="#666" stroke-width="0.5" />
<line x1="156.8" y1="305.6" x2="158" y2="305.6" stroke="#666" stroke-width="0.5" />
<line x1="158.0" y1="305.6" x2="158.0" y2="306.8" stroke="#777" stroke-width="0.5" />
<line x1="160.085" y1="305.6" x2="160.085" y2="306.8" stroke="#777" stroke-width="0.5" />
<line x1="162.17" y1="305.6" x2="162.17" y2="306.8" stroke="#777" stroke-width="0.5" />
<line x1="164.255" y1="305.6" x2="164.255" y2="306.8" stroke="#777" stroke-width="0.5" />
<line x1="166.34" y1="305.6" x2="166.34" y2="306.8" stroke="#777" stroke-width="0.5" />
<line x1="168.425" y1="305.6" x2="168.425" y2="306.8" stroke="#777" stroke-width="0.5" />
<line x1="170.51" y1="305.6" x2="170.51" y2="306.8" stroke="#777" stroke-width="0.5" />
<line x1="172.595" y1="305.6" x2="172.595" y2="306.8" stroke="#777" stroke-width="0.5" />
<line x1="174.68" y1="305.6" x2="174.68" y2="306.8" stroke="#777" stroke-width="0.5" />
<line x1="176.765" y1="305.6" x2="176.765" y2="306.8" stroke="#777" stroke-width="0.5" />
<line x1="178.85" y1="305.6" x2="178.85" y2="306.8" stroke="#777" stroke-width="0.5" />
<line x1="180.935" y1="305.6" x2="180.935" y2="306.8" stroke="#777" stroke-width="0.5" />
<line x1="183.02" y1="305.6" x2="183.02" y2="306.8" stroke="#777" stroke-width="0.5" />
<line x1="185.105" y1="305.6" x2="185.105" y2="306.8" stroke="#777" stroke-width="0.5" />
<line x1="187.19" y1="305.6" x2="187.19" y2="306.8" stroke="#777" stroke-width="0.5" />
<line x1="189.275" y1="305.6" x2="189.275" y2="306.8" stroke="#777" stroke-width="0.5" />
<line x1="191.36" y1="305.6" x2="191.36" y2="306.8" stroke="#777" stroke-width="0.5" />
<line x1="193.445" y1="305.6" x2="193.445" y2="306.8" stroke="#777" stroke-width="0.5" />
<line x1="195.53" y1="305.6" x2="195.53" y2="306.8" stroke="#777" stroke-width="0.5" />
<line x1="197.615" y1="305.6" x2="197.615" y2="306.8" stroke="#777" stroke-width="0.5" />
<line x1="199.7" y1="305.6" x2="199.7" y2="306.8" stroke="#777" stroke-width="0.5" />
<line x1="201.785" y1="305.6" x2="201.785" y2="306.8" stroke="#777" stroke-width="0.5" />
<line x1="203.87" y1="305.6" x2="203.87" y2="306.8" stroke="#777" stroke-width="0.5" />
<line x1="205.95499999999998" y1="305.6" x2="205.95499999999998" y2="306.8" stroke="#777" stroke-width="0.5" />
<line x1="208.04000000000002" y1="305.6" x2="208.04000000000002" y2="306.8" stroke="#777" stroke-width="0.5" />
<line x1="210.125" y1="305.6" x2="210.125" y2="306.8" stroke="#777" stroke-width="0.5" />
<line x1="212.21" y1="305.6" x2="212.21" y2="306.8" stroke="#777" stroke-width="0.5" />
<line x1="214.29500000000002" y1="305.6" x2="214.29500000000002" y2="306.8" stroke="#777" stroke-width="0.5" />
<line x1="216.38" y1="305.6" x2="216.38" y2="306.8" stroke="#777" stroke-width="0.5" />
<line x1="218.465" y1="305.6" x2="218.465" y2="306.8" stroke="#777" stroke-width="0.5" />
<line x1="220.55" y1="305.6" x2="220.55" y2="306.8" stroke="#777" stroke-width="0.5" />
<line x1="222.635" y1="305.6" x2="222.635" y2="306.8" stroke="#777" stroke-width="0.5" />
<line x1="224.72" y1="305.6" x2="224.72" y2="306.8" stroke="#777" stroke-width="0.5" />
<line x1="226.805" y1="305.6" x2="226.805" y2="306.8" stroke="#777" stroke-width="0.5" />
<line x1="228.89000000000001" y1="305.6" x2="228.89000000000001" y2="306.8" stroke="#777" stroke-width="0.5" />
<line x1="230.975" y1="305.6" x2="230.975" y2="306.8" stroke="#777" stroke-width="0.5" />
<line x1="233.06" y1="305.6" x2="233.06" y2="306.8" stroke="#777" stroke-width="0.5" />
<line x1="235.145" y1="305.6" x2="235.145" y2="306.8" stroke="#777" stroke-width="0.5" />
<line x1="237.23000000000002" y1="305.6" x2="237.23000000000002" y2="306.8" stroke="#777" stroke-width="0.5" />
<line x1="239.315" y1="305.6" x2="239.315" y2="306.8" stroke="#777" stroke-width="0.5" />
<line x1="241.4" y1="305.6" x2="241.4" y2="306.8" stroke="#777" stroke-width="0.5" />
<line x1="156" y1="241.7" x2="158" y2="241.7" stroke="#444" stroke-width="0.8" />
<line x1="156" y1="250.78" x2="158" y2="250.78" stroke="#444" stroke-width="0.8" />
<line x1="156" y1="259.86" x2="158" y2="259.86" stroke="#444" stroke-width="0.8" />
<line x1="156" y1="268.94" x2="158" y2="268.94" stroke="#444" stroke-width="0.8" />
<line x1="156" y1="278.02" x2="158" y2="278.02" stroke="#444" stroke-width="0.8" />
<line x1="156" y1="287.09999999999997" x2="158" y2="287.09999999999997" stroke="#444" stroke-width="0.8" />
<line x1="156" y1="296.18" x2="158" y2="296.18" stroke="#444" stroke-width="0.8" />
<line x1="156" y1="305.26" x2="158" y2="305.26" stroke="#444" stroke-width="0.8" />
<text x="236.2" y="246.9" font-size="7" text-anchor="end" font-weight="bold" fill="#000" >WT</text>
<line x1="60.5" y1="323.8" x2="143.8" y2="323.8" stroke="#8a8a8a" stroke-width="1.0" />
<line x1="143.8" y1="323.8" x2="143.8" y2="393" stroke="#8a8a8a" stroke-width="1.0" />
<line x1="60.5" y1="323.8" x2="60.5" y2="393" stroke="#444" stroke-width="1.0" />
<line x1="60.5" y1="393" x2="143.8" y2="393" stroke="#333" stroke-width="1.0" />
<line x1="59.3" y1="323.8" x2="60.5" y2="323.8" stroke="#666" stroke-width="0.5" />
<line x1="59.3" y1="326.1066666666667" x2="60.5" y2="326.1066666666667" stroke="#666" stroke-width="0.5" />
<line x1="59.3" y1="328.41333333333336" x2="60.5" y2="328.41333333333336" stroke="#666" stroke-width="0.5" />
<line x1="59.3" y1="330.72" x2="60.5" y2="330.72" stroke="#666" stroke-width="0.5" />
<line x1="59.3" y1="333.0266666666667" x2="60.5" y2="333.0266666666667" stroke="#666" stroke-width="0.5" />
<line x1="59.3" y1="335.33333333333337" x2="60.5" y2="335.33333333333337" stroke="#666" stroke-width="0.5" />
<line x1="59.3" y1="337.64" x2="60.5" y2="337.64" stroke="#666" stroke-width="0.5" />
<line x1="59.3" y1="339.94666666666666" x2="60.5" y2="339.94666666666666" stroke="#666" stroke-width="0.5" />
<line x1="59.3" y1="342.25333333333333" x2="60.5" y2="342.25333333333333" stroke="#666" stroke-width="0.5" />
<line x1="59.3" y1="344.56" x2="60.5" y2="344.56" stroke="#666" stroke-width="0.5" />
<line x1="59.3" y1="346.8666666666667" x2="60.5" y2="346.8666666666667" stroke="#666" stroke-width="0.5" />
<line x1="59.3" y1="349.17333333333335" x2="60.5" y2="349.17333333333335" stroke="#666" stroke-width="0.5" />
<line x1="59.3" y1="351.48" x2="60.5" y2="351.48" stroke="#666" stroke-width="0.5" />
<line x1="59.3" y1="353.7866666666667" x2="60.5" y2="353.7866666666667" stroke="#666" stroke-width="0.5" />
<line x1="59.3" y1="356.09333333333336" x2="60.5" y2="356.09333333333336" stroke="#666" stroke-width="0.5" />
<line x1="59.3" y1="358.4" x2="60.5" y2="358.4" stroke="#666" stroke-width="0.5" />
<line x1="59.3" y1="360.70666666666665" x2="60.5" y2="360.70666666666665" stroke="#666" stroke-width="0.5" />
<line x1="59.3" y1="363.0133333333333" x2="60.5" y2="363.0133333333333" stroke="#666" stroke-width="0.5" />
<line x1="59.3" y1="365.32" x2="60.5" y2="365.32" stroke="#666" stroke-width="0.5" />
<line x1="59.3" y1="367.62666666666667" x2="60.5" y2="367.62666666666667" stroke="#666" stroke-width="0.5" />
<line x1="59.3" y1="369.93333333333334" x2="60.5" y2="369.93333333333334" stroke="#666" stroke-width="0.5" />
<line x1="59.3" y1="372.24" x2="60.5" y2="372.24" stroke="#666" stroke-width="0.5" />
<line x1="59.3" y1="374.5466666666667" x2="60.5" y2="374.5466666666667" stroke="#666" stroke-width="0.5" />
<line x1="59.3" y1="376.85333333333335" x2="60.5" y2="376.85333333333335" stroke="#666" stroke-width="0.5" />
<line x1="59.3" y1="379.16" x2="60.5" y2="379.16" stroke="#666" stroke-width="0.5" />
<line x1="59.3" y1="381.4666666666667" x2="60.5" y2="381.4666666666667" stroke="#666" stroke-width="0.5" />
<line x1="59.3" y1="383.7733333333333" x2="60.5" y2="383.7733333333333" stroke="#666" stroke-width="0.5" />
<line x1="59.3" y1="386.08" x2="60.5" y2="386.08" stroke="#666" stroke-width="0.5" />
<line x1="59.3" y1="388.38666666666666" x2="60.5" y2="388.38666666666666" stroke="#666" stroke-width="0.5" />
<line x1="59.3" y1="390.6933333333333" x2="60.5" y2="390.6933333333333" stroke="#666" stroke-width="0.5" />
<line x1="59.3" y1="393.0" x2="60.5" y2="393.0" stroke="#666" stroke-width="0.5" />
<line x1="60.5" y1="393" x2="60.5" y2="394.2" stroke="#777" stroke-width="0.5" />
<line x1="62.5825" y1="393" x2="62.5825" y2="394.2" stroke="#777" stroke-width="0.5" />
<line x1="64.665" y1="393" x2="64.665" y2="394.2" stroke="#777" stroke-width="0.5" />
<line x1="66.7475" y1="393" x2="66.7475" y2="394.2" stroke="#777" stroke-width="0.5" />
<line x1="68.83" y1="393" x2="68.83" y2="394.2" stroke="#777" stroke-width="0.5" />
<line x1="70.9125" y1="393" x2="70.9125" y2="394.2" stroke="#777" stroke-width="0.5" />
<line x1="72.995" y1="393" x2="72.995" y2="394.2" stroke="#777" stroke-width="0.5" />
<line x1="75.0775" y1="393" x2="75.0775" y2="394.2" stroke="#777" stroke-width="0.5" />
<line x1="77.16" y1="393" x2="77.16" y2="394.2" stroke="#777" stroke-width="0.5" />
<line x1="79.2425" y1="393" x2="79.2425" y2="394.2" stroke="#777" stroke-width="0.5" />
<line x1="81.325" y1="393" x2="81.325" y2="394.2" stroke="#777" stroke-width="0.5" />
<line x1="83.4075" y1="393" x2="83.4075" y2="394.2" stroke="#777" stroke-width="0.5" />
<line x1="85.49000000000001" y1="393" x2="85.49000000000001" y2="394.2" stroke="#777" stroke-width="0.5" />
<line x1="87.5725" y1="393" x2="87.5725" y2="394.2" stroke="#777" stroke-width="0.5" />
<line x1="89.655" y1="393" x2="89.655" y2="394.2" stroke="#777" stroke-width="0.5" />
<line x1="91.73750000000001" y1="393" x2="91.73750000000001" y2="394.2" stroke="#777" stroke-width="0.5" />
<line x1="93.82000000000001" y1="393" x2="93.82000000000001" y2="394.2" stroke="#777" stroke-width="0.5" />
<line x1="95.9025" y1="393" x2="95.9025" y2="394.2" stroke="#777" stroke-width="0.5" />
<line x1="97.985" y1="393" x2="97.985" y2="394.2" stroke="#777" stroke-width="0.5" />
<line x1="100.06750000000001" y1="393" x2="100.06750000000001" y2="394.2" stroke="#777" stroke-width="0.5" />
<line x1="102.15" y1="393" x2="102.15" y2="394.2" stroke="#777" stroke-width="0.5" />
<line x1="104.2325" y1="393" x2="104.2325" y2="394.2" stroke="#777" stroke-width="0.5" />
<line x1="106.31500000000001" y1="393" x2="106.31500000000001" y2="394.2" stroke="#777" stroke-width="0.5" />
<line x1="108.39750000000001" y1="393" x2="108.39750000000001" y2="394.2" stroke="#777" stroke-width="0.5" />
<line x1="110.48" y1="393" x2="110.48" y2="394.2" stroke="#777" stroke-width="0.5" />
<line x1="112.56250000000001" y1="393" x2="112.56250000000001" y2="394.2" stroke="#777" stroke-width="0.5" />
<line x1="114.64500000000001" y1="393" x2="114.64500000000001" y2="394.2" stroke="#777" stroke-width="0.5" />
<line x1="116.7275" y1="393" x2="116.7275" y2="394.2" stroke="#777" stroke-width="0.5" />
<line x1="118.81000000000002" y1="393" x2="118.81000000000002" y2="394.2" stroke="#777" stroke-width="0.5" />
<line x1="120.89250000000001" y1="393" x2="120.89250000000001" y2="394.2" stroke="#777" stroke-width="0.5" />
<line x1="122.97500000000001" y1="393" x2="122.97500000000001" y2="394.2" stroke="#777" stroke-width="0.5" />
<line x1="125.0575" y1="393" x2="125.0575" y2="394.2" stroke="#777" stroke-width="0.5" />
<line x1="127.14000000000001" y1="393" x2="127.14000000000001" y2="394.2" stroke="#777" stroke-width="0.5" />
<line x1="129.22250000000003" y1="393" x2="129.22250000000003" y2="394.2" stroke="#777" stroke-width="0.5" />
<line x1="131.305" y1="393" x2="131.305" y2="394.2" stroke="#777" stroke-width="0.5" />
<line x1="133.38750000000002" y1="393" x2="133.38750000000002" y2="394.2" stroke="#777" stroke-width="0.5" />
<line x1="135.47" y1="393" x2="135.47" y2="394.2" stroke="#777" stroke-width="0.5" />
<line x1="137.5525" y1="393" x2="137.5525" y2="394.2" stroke="#777" stroke-width="0.5" />
<line x1="139.63500000000002" y1="393" x2="139.63500000000002" y2="394.2" stroke="#777" stroke-width="0.5" />
<line x1="141.7175" y1="393" x2="141.7175" y2="394.2" stroke="#777" stroke-width="0.5" />
<line x1="143.8" y1="393" x2="143.8" y2="394.2" stroke="#777" stroke-width="0.5" />
<line x1="58.5" y1="327.7" x2="60.5" y2="327.7" stroke="#444" stroke-width="0.8" />
<text x="53.1" y="330.7" font-size="8.3" text-anchor="end" font-weight="normal" fill="#000" >140</text>
<line x1="58.5" y1="336.78" x2="60.5" y2="336.78" stroke="#444" stroke-width="0.8" />
<text x="53.1" y="339.78" font-size="8.3" text-anchor="end" font-weight="normal" fill="#000" >120</text>
<line x1="58.5" y1="345.86" x2="60.5" y2="345.86" stroke="#444" stroke-width="0.8" />
<text x="53.1" y="348.86" font-size="8.3" text-anchor="end" font-weight="normal" fill="#000" >100</text>
<line x1="58.5" y1="354.94" x2="60.5" y2="354.94" stroke="#444" stroke-width="0.8" />
<text x="53.1" y="357.94" font-size="8.3" text-anchor="end" font-weight="normal" fill="#000" >80</text>
<line x1="58.5" y1="364.02" x2="60.5" y2="364.02" stroke="#444" stroke-width="0.8" />
<text x="53.1" y="367.02" font-size="8.3" text-anchor="end" font-weight="normal" fill="#000" >60</text>
<line x1="58.5" y1="373.09999999999997" x2="60.5" y2="373.09999999999997" stroke="#444" stroke-width="0.8" />
<text x="53.1" y="376.09999999999997" font-size="8.3" text-anchor="end" font-weight="normal" fill="#000" >40</text>
<line x1="58.5" y1="382.18" x2="60.5" y2="382.18" stroke="#444" stroke-width="0.8" />
<text x="53.1" y="385.18" font-size="8.3" text-anchor="end" font-weight="normal" fill="#000" >20</text>
<line x1="58.5" y1="391.26" x2="60.5" y2="391.26" stroke="#444" stroke-width="0.8" />
<text x="53.1" y="394.26" font-size="8.3" text-anchor="end" font-weight="normal" fill="#000" >0</text>
<text x="139.8" y="333.4" font-size="7.2" text-anchor="end" font-weight="bold" fill="#000" >KO</text>
<line x1="158" y1="323.8" x2="241" y2="323.8" stroke="#8a8a8a" stroke-width="1.0" />
<line x1="241" y1="323.8" x2="241" y2="393" stroke="#8a8a8a" stroke-width="1.0" />
<line x1="158" y1="323.8" x2="158" y2="393" stroke="#444" stroke-width="1.0" />
<line x1="158" y1="393" x2="241" y2="393" stroke="#333" stroke-width="1.0" />
<line x1="156.8" y1="323.8" x2="158" y2="323.8" stroke="#666" stroke-width="0.5" />
<line x1="156.8" y1="326.1066666666667" x2="158" y2="326.1066666666667" stroke="#666" stroke-width="0.5" />
<line x1="156.8" y1="328.41333333333336" x2="158" y2="328.41333333333336" stroke="#666" stroke-width="0.5" />
<line x1="156.8" y1="330.72" x2="158" y2="330.72" stroke="#666" stroke-width="0.5" />
<line x1="156.8" y1="333.0266666666667" x2="158" y2="333.0266666666667" stroke="#666" stroke-width="0.5" />
<line x1="156.8" y1="335.33333333333337" x2="158" y2="335.33333333333337" stroke="#666" stroke-width="0.5" />
<line x1="156.8" y1="337.64" x2="158" y2="337.64" stroke="#666" stroke-width="0.5" />
<line x1="156.8" y1="339.94666666666666" x2="158" y2="339.94666666666666" stroke="#666" stroke-width="0.5" />
<line x1="156.8" y1="342.25333333333333" x2="158" y2="342.25333333333333" stroke="#666" stroke-width="0.5" />
<line x1="156.8" y1="344.56" x2="158" y2="344.56" stroke="#666" stroke-width="0.5" />
<line x1="156.8" y1="346.8666666666667" x2="158" y2="346.8666666666667" stroke="#666" stroke-width="0.5" />
<line x1="156.8" y1="349.17333333333335" x2="158" y2="349.17333333333335" stroke="#666" stroke-width="0.5" />
<line x1="156.8" y1="351.48" x2="158" y2="351.48" stroke="#666" stroke-width="0.5" />
<line x1="156.8" y1="353.7866666666667" x2="158" y2="353.7866666666667" stroke="#666" stroke-width="0.5" />
<line x1="156.8" y1="356.09333333333336" x2="158" y2="356.09333333333336" stroke="#666" stroke-width="0.5" />
<line x1="156.8" y1="358.4" x2="158" y2="358.4" stroke="#666" stroke-width="0.5" />
<line x1="156.8" y1="360.70666666666665" x2="158" y2="360.70666666666665" stroke="#666" stroke-width="0.5" />
<line x1="156.8" y1="363.0133333333333" x2="158" y2="363.0133333333333" stroke="#666" stroke-width="0.5" />
<line x1="156.8" y1="365.32" x2="158" y2="365.32" stroke="#666" stroke-width="0.5" />
<line x1="156.8" y1="367.62666666666667" x2="158" y2="367.62666666666667" stroke="#666" stroke-width="0.5" />
<line x1="156.8" y1="369.93333333333334" x2="158" y2="369.93333333333334" stroke="#666" stroke-width="0.5" />
<line x1="156.8" y1="372.24" x2="158" y2="372.24" stroke="#666" stroke-width="0.5" />
<line x1="156.8" y1="374.5466666666667" x2="158" y2="374.5466666666667" stroke="#666" stroke-width="0.5" />
<line x1="156.8" y1="376.85333333333335" x2="158" y2="376.85333333333335" stroke="#666" stroke-width="0.5" />
<line x1="156.8" y1="379.16" x2="158" y2="379.16" stroke="#666" stroke-width="0.5" />
<line x1="156.8" y1="381.4666666666667" x2="158" y2="381.4666666666667" stroke="#666" stroke-width="0.5" />
<line x1="156.8" y1="383.7733333333333" x2="158" y2="383.7733333333333" stroke="#666" stroke-width="0.5" />
<line x1="156.8" y1="386.08" x2="158" y2="386.08" stroke="#666" stroke-width="0.5" />
<line x1="156.8" y1="388.38666666666666" x2="158" y2="388.38666666666666" stroke="#666" stroke-width="0.5" />
<line x1="156.8" y1="390.6933333333333" x2="158" y2="390.6933333333333" stroke="#666" stroke-width="0.5" />
<line x1="156.8" y1="393.0" x2="158" y2="393.0" stroke="#666" stroke-width="0.5" />
<line x1="158.0" y1="393" x2="158.0" y2="394.2" stroke="#777" stroke-width="0.5" />
<line x1="160.075" y1="393" x2="160.075" y2="394.2" stroke="#777" stroke-width="0.5" />
<line x1="162.15" y1="393" x2="162.15" y2="394.2" stroke="#777" stroke-width="0.5" />
<line x1="164.225" y1="393" x2="164.225" y2="394.2" stroke="#777" stroke-width="0.5" />
<line x1="166.3" y1="393" x2="166.3" y2="394.2" stroke="#777" stroke-width="0.5" />
<line x1="168.375" y1="393" x2="168.375" y2="394.2" stroke="#777" stroke-width="0.5" />
<line x1="170.45" y1="393" x2="170.45" y2="394.2" stroke="#777" stroke-width="0.5" />
<line x1="172.525" y1="393" x2="172.525" y2="394.2" stroke="#777" stroke-width="0.5" />
<line x1="174.6" y1="393" x2="174.6" y2="394.2" stroke="#777" stroke-width="0.5" />
<line x1="176.675" y1="393" x2="176.675" y2="394.2" stroke="#777" stroke-width="0.5" />
<line x1="178.75" y1="393" x2="178.75" y2="394.2" stroke="#777" stroke-width="0.5" />
<line x1="180.825" y1="393" x2="180.825" y2="394.2" stroke="#777" stroke-width="0.5" />
<line x1="182.9" y1="393" x2="182.9" y2="394.2" stroke="#777" stroke-width="0.5" />
<line x1="184.975" y1="393" x2="184.975" y2="394.2" stroke="#777" stroke-width="0.5" />
<line x1="187.05" y1="393" x2="187.05" y2="394.2" stroke="#777" stroke-width="0.5" />
<line x1="189.125" y1="393" x2="189.125" y2="394.2" stroke="#777" stroke-width="0.5" />
<line x1="191.2" y1="393" x2="191.2" y2="394.2" stroke="#777" stroke-width="0.5" />
<line x1="193.275" y1="393" x2="193.275" y2="394.2" stroke="#777" stroke-width="0.5" />
<line x1="195.35" y1="393" x2="195.35" y2="394.2" stroke="#777" stroke-width="0.5" />
<line x1="197.425" y1="393" x2="197.425" y2="394.2" stroke="#777" stroke-width="0.5" />
<line x1="199.5" y1="393" x2="199.5" y2="394.2" stroke="#777" stroke-width="0.5" />
<line x1="201.575" y1="393" x2="201.575" y2="394.2" stroke="#777" stroke-width="0.5" />
<line x1="203.65" y1="393" x2="203.65" y2="394.2" stroke="#777" stroke-width="0.5" />
<line x1="205.725" y1="393" x2="205.725" y2="394.2" stroke="#777" stroke-width="0.5" />
<line x1="207.8" y1="393" x2="207.8" y2="394.2" stroke="#777" stroke-width="0.5" />
<line x1="209.875" y1="393" x2="209.875" y2="394.2" stroke="#777" stroke-width="0.5" />
<line x1="211.95" y1="393" x2="211.95" y2="394.2" stroke="#777" stroke-width="0.5" />
<line x1="214.025" y1="393" x2="214.025" y2="394.2" stroke="#777" stroke-width="0.5" />
<line x1="216.1" y1="393" x2="216.1" y2="394.2" stroke="#777" stroke-width="0.5" />
<line x1="218.175" y1="393" x2="218.175" y2="394.2" stroke="#777" stroke-width="0.5" />
<line x1="220.25" y1="393" x2="220.25" y2="394.2" stroke="#777" stroke-width="0.5" />
<line x1="222.325" y1="393" x2="222.325" y2="394.2" stroke="#777" stroke-width="0.5" />
<line x1="224.4" y1="393" x2="224.4" y2="394.2" stroke="#777" stroke-width="0.5" />
<line x1="226.475" y1="393" x2="226.475" y2="394.2" stroke="#777" stroke-width="0.5" />
<line x1="228.55" y1="393" x2="228.55" y2="394.2" stroke="#777" stroke-width="0.5" />
<line x1="230.625" y1="393" x2="230.625" y2="394.2" stroke="#777" stroke-width="0.5" />
<line x1="232.7" y1="393" x2="232.7" y2="394.2" stroke="#777" stroke-width="0.5" />
<line x1="234.775" y1="393" x2="234.775" y2="394.2" stroke="#777" stroke-width="0.5" />
<line x1="236.85" y1="393" x2="236.85" y2="394.2" stroke="#777" stroke-width="0.5" />
<line x1="238.925" y1="393" x2="238.925" y2="394.2" stroke="#777" stroke-width="0.5" />
<line x1="241.0" y1="393" x2="241.0" y2="394.2" stroke="#777" stroke-width="0.5" />
<line x1="156" y1="327.7" x2="158" y2="327.7" stroke="#444" stroke-width="0.8" />
<line x1="156" y1="336.78" x2="158" y2="336.78" stroke="#444" stroke-width="0.8" />
<line x1="156" y1="345.86" x2="158" y2="345.86" stroke="#444" stroke-width="0.8" />
<line x1="156" y1="354.94" x2="158" y2="354.94" stroke="#444" stroke-width="0.8" />
<line x1="156" y1="364.02" x2="158" y2="364.02" stroke="#444" stroke-width="0.8" />
<line x1="156" y1="373.09999999999997" x2="158" y2="373.09999999999997" stroke="#444" stroke-width="0.8" />
<line x1="156" y1="382.18" x2="158" y2="382.18" stroke="#444" stroke-width="0.8" />
<line x1="156" y1="391.26" x2="158" y2="391.26" stroke="#444" stroke-width="0.8" />
<text x="237.0" y="333.6" font-size="7.2" text-anchor="end" font-weight="bold" fill="#000" >KO</text>
<line x1="346.8" y1="241.6" x2="425.5" y2="241.6" stroke="#8a8a8a" stroke-width="1.0" />
<line x1="425.5" y1="241.6" x2="425.5" y2="310.3" stroke="#8a8a8a" stroke-width="1.0" />
<line x1="346.8" y1="241.6" x2="346.8" y2="310.3" stroke="#444" stroke-width="1.0" />
<line x1="346.8" y1="310.3" x2="425.5" y2="310.3" stroke="#333" stroke-width="1.0" />
<line x1="345.6" y1="241.6" x2="346.8" y2="241.6" stroke="#666" stroke-width="0.5" />
<line x1="345.6" y1="243.89" x2="346.8" y2="243.89" stroke="#666" stroke-width="0.5" />
<line x1="345.6" y1="246.18" x2="346.8" y2="246.18" stroke="#666" stroke-width="0.5" />
<line x1="345.6" y1="248.47" x2="346.8" y2="248.47" stroke="#666" stroke-width="0.5" />
<line x1="345.6" y1="250.76" x2="346.8" y2="250.76" stroke="#666" stroke-width="0.5" />
<line x1="345.6" y1="253.05" x2="346.8" y2="253.05" stroke="#666" stroke-width="0.5" />
<line x1="345.6" y1="255.34" x2="346.8" y2="255.34" stroke="#666" stroke-width="0.5" />
<line x1="345.6" y1="257.63" x2="346.8" y2="257.63" stroke="#666" stroke-width="0.5" />
<line x1="345.6" y1="259.92" x2="346.8" y2="259.92" stroke="#666" stroke-width="0.5" />
<line x1="345.6" y1="262.21" x2="346.8" y2="262.21" stroke="#666" stroke-width="0.5" />
<line x1="345.6" y1="264.5" x2="346.8" y2="264.5" stroke="#666" stroke-width="0.5" />
<line x1="345.6" y1="266.79" x2="346.8" y2="266.79" stroke="#666" stroke-width="0.5" />
<line x1="345.6" y1="269.08" x2="346.8" y2="269.08" stroke="#666" stroke-width="0.5" />
<line x1="345.6" y1="271.37" x2="346.8" y2="271.37" stroke="#666" stroke-width="0.5" />
<line x1="345.6" y1="273.66" x2="346.8" y2="273.66" stroke="#666" stroke-width="0.5" />
<line x1="345.6" y1="275.95" x2="346.8" y2="275.95" stroke="#666" stroke-width="0.5" />
<line x1="345.6" y1="278.24" x2="346.8" y2="278.24" stroke="#666" stroke-width="0.5" />
<line x1="345.6" y1="280.53000000000003" x2="346.8" y2="280.53000000000003" stroke="#666" stroke-width="0.5" />
<line x1="345.6" y1="282.82" x2="346.8" y2="282.82" stroke="#666" stroke-width="0.5" />
<line x1="345.6" y1="285.11" x2="346.8" y2="285.11" stroke="#666" stroke-width="0.5" />
<line x1="345.6" y1="287.40000000000003" x2="346.8" y2="287.40000000000003" stroke="#666" stroke-width="0.5" />
<line x1="345.6" y1="289.69" x2="346.8" y2="289.69" stroke="#666" stroke-width="0.5" />
<line x1="345.6" y1="291.98" x2="346.8" y2="291.98" stroke="#666" stroke-width="0.5" />
<line x1="345.6" y1="294.27" x2="346.8" y2="294.27" stroke="#666" stroke-width="0.5" />
<line x1="345.6" y1="296.56" x2="346.8" y2="296.56" stroke="#666" stroke-width="0.5" />
<line x1="345.6" y1="298.85" x2="346.8" y2="298.85" stroke="#666" stroke-width="0.5" />
<line x1="345.6" y1="301.14" x2="346.8" y2="301.14" stroke="#666" stroke-width="0.5" />
<line x1="345.6" y1="303.43" x2="346.8" y2="303.43" stroke="#666" stroke-width="0.5" />
<line x1="345.6" y1="305.72" x2="346.8" y2="305.72" stroke="#666" stroke-width="0.5" />
<line x1="345.6" y1="308.01" x2="346.8" y2="308.01" stroke="#666" stroke-width="0.5" />
<line x1="345.6" y1="310.3" x2="346.8" y2="310.3" stroke="#666" stroke-width="0.5" />
<line x1="346.8" y1="310.3" x2="346.8" y2="311.5" stroke="#777" stroke-width="0.5" />
<line x1="348.7675" y1="310.3" x2="348.7675" y2="311.5" stroke="#777" stroke-width="0.5" />
<line x1="350.735" y1="310.3" x2="350.735" y2="311.5" stroke="#777" stroke-width="0.5" />
<line x1="352.7025" y1="310.3" x2="352.7025" y2="311.5" stroke="#777" stroke-width="0.5" />
<line x1="354.67" y1="310.3" x2="354.67" y2="311.5" stroke="#777" stroke-width="0.5" />
<line x1="356.6375" y1="310.3" x2="356.6375" y2="311.5" stroke="#777" stroke-width="0.5" />
<line x1="358.605" y1="310.3" x2="358.605" y2="311.5" stroke="#777" stroke-width="0.5" />
<line x1="360.5725" y1="310.3" x2="360.5725" y2="311.5" stroke="#777" stroke-width="0.5" />
<line x1="362.54" y1="310.3" x2="362.54" y2="311.5" stroke="#777" stroke-width="0.5" />
<line x1="364.5075" y1="310.3" x2="364.5075" y2="311.5" stroke="#777" stroke-width="0.5" />
<line x1="366.475" y1="310.3" x2="366.475" y2="311.5" stroke="#777" stroke-width="0.5" />
<line x1="368.4425" y1="310.3" x2="368.4425" y2="311.5" stroke="#777" stroke-width="0.5" />
<line x1="370.41" y1="310.3" x2="370.41" y2="311.5" stroke="#777" stroke-width="0.5" />
<line x1="372.3775" y1="310.3" x2="372.3775" y2="311.5" stroke="#777" stroke-width="0.5" />
<line x1="374.345" y1="310.3" x2="374.345" y2="311.5" stroke="#777" stroke-width="0.5" />
<line x1="376.3125" y1="310.3" x2="376.3125" y2="311.5" stroke="#777" stroke-width="0.5" />
<line x1="378.28000000000003" y1="310.3" x2="378.28000000000003" y2="311.5" stroke="#777" stroke-width="0.5" />
<line x1="380.2475" y1="310.3" x2="380.2475" y2="311.5" stroke="#777" stroke-width="0.5" />
<line x1="382.21500000000003" y1="310.3" x2="382.21500000000003" y2="311.5" stroke="#777" stroke-width="0.5" />
<line x1="384.1825" y1="310.3" x2="384.1825" y2="311.5" stroke="#777" stroke-width="0.5" />
<line x1="386.15" y1="310.3" x2="386.15" y2="311.5" stroke="#777" stroke-width="0.5" />
<line x1="388.1175" y1="310.3" x2="388.1175" y2="311.5" stroke="#777" stroke-width="0.5" />
<line x1="390.085" y1="310.3" x2="390.085" y2="311.5" stroke="#777" stroke-width="0.5" />
<line x1="392.0525" y1="310.3" x2="392.0525" y2="311.5" stroke="#777" stroke-width="0.5" />
<line x1="394.02" y1="310.3" x2="394.02" y2="311.5" stroke="#777" stroke-width="0.5" />
<line x1="395.9875" y1="310.3" x2="395.9875" y2="311.5" stroke="#777" stroke-width="0.5" />
<line x1="397.955" y1="310.3" x2="397.955" y2="311.5" stroke="#777" stroke-width="0.5" />
<line x1="399.9225" y1="310.3" x2="399.9225" y2="311.5" stroke="#777" stroke-width="0.5" />
<line x1="401.89" y1="310.3" x2="401.89" y2="311.5" stroke="#777" stroke-width="0.5" />
<line x1="403.8575" y1="310.3" x2="403.8575" y2="311.5" stroke="#777" stroke-width="0.5" />
<line x1="405.825" y1="310.3" x2="405.825" y2="311.5" stroke="#777" stroke-width="0.5" />
<line x1="407.7925" y1="310.3" x2="407.7925" y2="311.5" stroke="#777" stroke-width="0.5" />
<line x1="409.76" y1="310.3" x2="409.76" y2="311.5" stroke="#777" stroke-width="0.5" />
<line x1="411.72749999999996" y1="310.3" x2="411.72749999999996" y2="311.5" stroke="#777" stroke-width="0.5" />
<line x1="413.695" y1="310.3" x2="413.695" y2="311.5" stroke="#777" stroke-width="0.5" />
<line x1="415.6625" y1="310.3" x2="415.6625" y2="311.5" stroke="#777" stroke-width="0.5" />
<line x1="417.63" y1="310.3" x2="417.63" y2="311.5" stroke="#777" stroke-width="0.5" />
<line x1="419.59749999999997" y1="310.3" x2="419.59749999999997" y2="311.5" stroke="#777" stroke-width="0.5" />
<line x1="421.565" y1="310.3" x2="421.565" y2="311.5" stroke="#777" stroke-width="0.5" />
<line x1="423.5325" y1="310.3" x2="423.5325" y2="311.5" stroke="#777" stroke-width="0.5" />
<line x1="425.5" y1="310.3" x2="425.5" y2="311.5" stroke="#777" stroke-width="0.5" />
<line x1="344.8" y1="245.0" x2="346.8" y2="245.0" stroke="#444" stroke-width="0.8" />
<text x="338.7" y="248.0" font-size="8.3" text-anchor="end" font-weight="normal" fill="#000" >120</text>
<line x1="344.8" y1="255.9" x2="346.8" y2="255.9" stroke="#444" stroke-width="0.8" />
<text x="338.7" y="258.9" font-size="8.3" text-anchor="end" font-weight="normal" fill="#000" >100</text>
<line x1="344.8" y1="266.8" x2="346.8" y2="266.8" stroke="#444" stroke-width="0.8" />
<text x="338.7" y="269.8" font-size="8.3" text-anchor="end" font-weight="normal" fill="#000" >80</text>
<line x1="344.8" y1="277.7" x2="346.8" y2="277.7" stroke="#444" stroke-width="0.8" />
<text x="338.7" y="280.7" font-size="8.3" text-anchor="end" font-weight="normal" fill="#000" >60</text>
<line x1="344.8" y1="288.6" x2="346.8" y2="288.6" stroke="#444" stroke-width="0.8" />
<text x="338.7" y="291.6" font-size="8.3" text-anchor="end" font-weight="normal" fill="#000" >40</text>
<line x1="344.8" y1="299.5" x2="346.8" y2="299.5" stroke="#444" stroke-width="0.8" />
<text x="338.7" y="302.5" font-size="8.3" text-anchor="end" font-weight="normal" fill="#000" >20</text>
<line x1="344.8" y1="310.4" x2="346.8" y2="310.4" stroke="#444" stroke-width="0.8" />
<text x="338.7" y="313.4" font-size="8.3" text-anchor="end" font-weight="normal" fill="#000" >0</text>
<text x="419.6" y="252.2" font-size="7.5" text-anchor="end" font-weight="bold" fill="#000" >WT</text>
<line x1="437" y1="241.6" x2="515.4" y2="241.6" stroke="#8a8a8a" stroke-width="1.0" />
<line x1="515.4" y1="241.6" x2="515.4" y2="310.3" stroke="#8a8a8a" stroke-width="1.0" />
<line x1="437" y1="241.6" x2="437" y2="310.3" stroke="#444" stroke-width="1.0" />
<line x1="437" y1="310.3" x2="515.4" y2="310.3" stroke="#333" stroke-width="1.0" />
<line x1="435.8" y1="241.6" x2="437" y2="241.6" stroke="#666" stroke-width="0.5" />
<line x1="435.8" y1="243.89" x2="437" y2="243.89" stroke="#666" stroke-width="0.5" />
<line x1="435.8" y1="246.18" x2="437" y2="246.18" stroke="#666" stroke-width="0.5" />
<line x1="435.8" y1="248.47" x2="437" y2="248.47" stroke="#666" stroke-width="0.5" />
<line x1="435.8" y1="250.76" x2="437" y2="250.76" stroke="#666" stroke-width="0.5" />
<line x1="435.8" y1="253.05" x2="437" y2="253.05" stroke="#666" stroke-width="0.5" />
<line x1="435.8" y1="255.34" x2="437" y2="255.34" stroke="#666" stroke-width="0.5" />
<line x1="435.8" y1="257.63" x2="437" y2="257.63" stroke="#666" stroke-width="0.5" />
<line x1="435.8" y1="259.92" x2="437" y2="259.92" stroke="#666" stroke-width="0.5" />
<line x1="435.8" y1="262.21" x2="437" y2="262.21" stroke="#666" stroke-width="0.5" />
<line x1="435.8" y1="264.5" x2="437" y2="264.5" stroke="#666" stroke-width="0.5" />
<line x1="435.8" y1="266.79" x2="437" y2="266.79" stroke="#666" stroke-width="0.5" />
<line x1="435.8" y1="269.08" x2="437" y2="269.08" stroke="#666" stroke-width="0.5" />
<line x1="435.8" y1="271.37" x2="437" y2="271.37" stroke="#666" stroke-width="0.5" />
<line x1="435.8" y1="273.66" x2="437" y2="273.66" stroke="#666" stroke-width="0.5" />
<line x1="435.8" y1="275.95" x2="437" y2="275.95" stroke="#666" stroke-width="0.5" />
<line x1="435.8" y1="278.24" x2="437" y2="278.24" stroke="#666" stroke-width="0.5" />
<line x1="435.8" y1="280.53000000000003" x2="437" y2="280.53000000000003" stroke="#666" stroke-width="0.5" />
<line x1="435.8" y1="282.82" x2="437" y2="282.82" stroke="#666" stroke-width="0.5" />
<line x1="435.8" y1="285.11" x2="437" y2="285.11" stroke="#666" stroke-width="0.5" />
<line x1="435.8" y1="287.40000000000003" x2="437" y2="287.40000000000003" stroke="#666" stroke-width="0.5" />
<line x1="435.8" y1="289.69" x2="437" y2="289.69" stroke="#666" stroke-width="0.5" />
<line x1="435.8" y1="291.98" x2="437" y2="291.98" stroke="#666" stroke-width="0.5" />
<line x1="435.8" y1="294.27" x2="437" y2="294.27" stroke="#666" stroke-width="0.5" />
<line x1="435.8" y1="296.56" x2="437" y2="296.56" stroke="#666" stroke-width="0.5" />
<line x1="435.8" y1="298.85" x2="437" y2="298.85" stroke="#666" stroke-width="0.5" />
<line x1="435.8" y1="301.14" x2="437" y2="301.14" stroke="#666" stroke-width="0.5" />
<line x1="435.8" y1="303.43" x2="437" y2="303.43" stroke="#666" stroke-width="0.5" />
<line x1="435.8" y1="305.72" x2="437" y2="305.72" stroke="#666" stroke-width="0.5" />
<line x1="435.8" y1="308.01" x2="437" y2="308.01" stroke="#666" stroke-width="0.5" />
<line x1="435.8" y1="310.3" x2="437" y2="310.3" stroke="#666" stroke-width="0.5" />
<line x1="437.0" y1="310.3" x2="437.0" y2="311.5" stroke="#777" stroke-width="0.5" />
<line x1="438.96" y1="310.3" x2="438.96" y2="311.5" stroke="#777" stroke-width="0.5" />
<line x1="440.92" y1="310.3" x2="440.92" y2="311.5" stroke="#777" stroke-width="0.5" />
<line x1="442.88" y1="310.3" x2="442.88" y2="311.5" stroke="#777" stroke-width="0.5" />
<line x1="444.84" y1="310.3" x2="444.84" y2="311.5" stroke="#777" stroke-width="0.5" />
<line x1="446.8" y1="310.3" x2="446.8" y2="311.5" stroke="#777" stroke-width="0.5" />
<line x1="448.76" y1="310.3" x2="448.76" y2="311.5" stroke="#777" stroke-width="0.5" />
<line x1="450.71999999999997" y1="310.3" x2="450.71999999999997" y2="311.5" stroke="#777" stroke-width="0.5" />
<line x1="452.68" y1="310.3" x2="452.68" y2="311.5" stroke="#777" stroke-width="0.5" />
<line x1="454.64" y1="310.3" x2="454.64" y2="311.5" stroke="#777" stroke-width="0.5" />
<line x1="456.6" y1="310.3" x2="456.6" y2="311.5" stroke="#777" stroke-width="0.5" />
<line x1="458.56" y1="310.3" x2="458.56" y2="311.5" stroke="#777" stroke-width="0.5" />
<line x1="460.52" y1="310.3" x2="460.52" y2="311.5" stroke="#777" stroke-width="0.5" />
<line x1="462.48" y1="310.3" x2="462.48" y2="311.5" stroke="#777" stroke-width="0.5" />
<line x1="464.44" y1="310.3" x2="464.44" y2="311.5" stroke="#777" stroke-width="0.5" />
<line x1="466.4" y1="310.3" x2="466.4" y2="311.5" stroke="#777" stroke-width="0.5" />
<line x1="468.36" y1="310.3" x2="468.36" y2="311.5" stroke="#777" stroke-width="0.5" />
<line x1="470.32" y1="310.3" x2="470.32" y2="311.5" stroke="#777" stroke-width="0.5" />
<line x1="472.28" y1="310.3" x2="472.28" y2="311.5" stroke="#777" stroke-width="0.5" />
<line x1="474.24" y1="310.3" x2="474.24" y2="311.5" stroke="#777" stroke-width="0.5" />
<line x1="476.2" y1="310.3" x2="476.2" y2="311.5" stroke="#777" stroke-width="0.5" />
<line x1="478.15999999999997" y1="310.3" x2="478.15999999999997" y2="311.5" stroke="#777" stroke-width="0.5" />
<line x1="480.12" y1="310.3" x2="480.12" y2="311.5" stroke="#777" stroke-width="0.5" />
<line x1="482.08" y1="310.3" x2="482.08" y2="311.5" stroke="#777" stroke-width="0.5" />
<line x1="484.03999999999996" y1="310.3" x2="484.03999999999996" y2="311.5" stroke="#777" stroke-width="0.5" />
<line x1="486.0" y1="310.3" x2="486.0" y2="311.5" stroke="#777" stroke-width="0.5" />
<line x1="487.96" y1="310.3" x2="487.96" y2="311.5" stroke="#777" stroke-width="0.5" />
<line x1="489.91999999999996" y1="310.3" x2="489.91999999999996" y2="311.5" stroke="#777" stroke-width="0.5" />
<line x1="491.88" y1="310.3" x2="491.88" y2="311.5" stroke="#777" stroke-width="0.5" />
<line x1="493.84" y1="310.3" x2="493.84" y2="311.5" stroke="#777" stroke-width="0.5" />
<line x1="495.79999999999995" y1="310.3" x2="495.79999999999995" y2="311.5" stroke="#777" stroke-width="0.5" />
<line x1="497.76" y1="310.3" x2="497.76" y2="311.5" stroke="#777" stroke-width="0.5" />
<line x1="499.71999999999997" y1="310.3" x2="499.71999999999997" y2="311.5" stroke="#777" stroke-width="0.5" />
<line x1="501.67999999999995" y1="310.3" x2="501.67999999999995" y2="311.5" stroke="#777" stroke-width="0.5" />
<line x1="503.64" y1="310.3" x2="503.64" y2="311.5" stroke="#777" stroke-width="0.5" />
<line x1="505.59999999999997" y1="310.3" x2="505.59999999999997" y2="311.5" stroke="#777" stroke-width="0.5" />
<line x1="507.55999999999995" y1="310.3" x2="507.55999999999995" y2="311.5" stroke="#777" stroke-width="0.5" />
<line x1="509.52" y1="310.3" x2="509.52" y2="311.5" stroke="#777" stroke-width="0.5" />
<line x1="511.47999999999996" y1="310.3" x2="511.47999999999996" y2="311.5" stroke="#777" stroke-width="0.5" />
<line x1="513.4399999999999" y1="310.3" x2="513.4399999999999" y2="311.5" stroke="#777" stroke-width="0.5" />
<line x1="515.4" y1="310.3" x2="515.4" y2="311.5" stroke="#777" stroke-width="0.5" />
<line x1="435" y1="245.0" x2="437" y2="245.0" stroke="#444" stroke-width="0.8" />
<line x1="435" y1="255.9" x2="437" y2="255.9" stroke="#444" stroke-width="0.8" />
<line x1="435" y1="266.8" x2="437" y2="266.8" stroke="#444" stroke-width="0.8" />
<line x1="435" y1="277.7" x2="437" y2="277.7" stroke="#444" stroke-width="0.8" />
<line x1="435" y1="288.6" x2="437" y2="288.6" stroke="#444" stroke-width="0.8" />
<line x1="435" y1="299.5" x2="437" y2="299.5" stroke="#444" stroke-width="0.8" />
<line x1="435" y1="310.4" x2="437" y2="310.4" stroke="#444" stroke-width="0.8" />
<text x="509.6" y="252.2" font-size="7.5" text-anchor="end" font-weight="bold" fill="#000" >WT</text>
<line x1="346.8" y1="325" x2="425.3" y2="325" stroke="#8a8a8a" stroke-width="1.0" />
<line x1="425.3" y1="325" x2="425.3" y2="393.5" stroke="#8a8a8a" stroke-width="1.0" />
<line x1="346.8" y1="325" x2="346.8" y2="393.5" stroke="#444" stroke-width="1.0" />
<line x1="346.8" y1="393.5" x2="425.3" y2="393.5" stroke="#333" stroke-width="1.0" />
<line x1="345.6" y1="325.0" x2="346.8" y2="325.0" stroke="#666" stroke-width="0.5" />
<line x1="345.6" y1="327.28333333333336" x2="346.8" y2="327.28333333333336" stroke="#666" stroke-width="0.5" />
<line x1="345.6" y1="329.56666666666666" x2="346.8" y2="329.56666666666666" stroke="#666" stroke-width="0.5" />
<line x1="345.6" y1="331.85" x2="346.8" y2="331.85" stroke="#666" stroke-width="0.5" />
<line x1="345.6" y1="334.1333333333333" x2="346.8" y2="334.1333333333333" stroke="#666" stroke-width="0.5" />
<line x1="345.6" y1="336.4166666666667" x2="346.8" y2="336.4166666666667" stroke="#666" stroke-width="0.5" />
<line x1="345.6" y1="338.7" x2="346.8" y2="338.7" stroke="#666" stroke-width="0.5" />
<line x1="345.6" y1="340.98333333333335" x2="346.8" y2="340.98333333333335" stroke="#666" stroke-width="0.5" />
<line x1="345.6" y1="343.26666666666665" x2="346.8" y2="343.26666666666665" stroke="#666" stroke-width="0.5" />
<line x1="345.6" y1="345.55" x2="346.8" y2="345.55" stroke="#666" stroke-width="0.5" />
<line x1="345.6" y1="347.8333333333333" x2="346.8" y2="347.8333333333333" stroke="#666" stroke-width="0.5" />
<line x1="345.6" y1="350.1166666666667" x2="346.8" y2="350.1166666666667" stroke="#666" stroke-width="0.5" />
<line x1="345.6" y1="352.4" x2="346.8" y2="352.4" stroke="#666" stroke-width="0.5" />
<line x1="345.6" y1="354.68333333333334" x2="346.8" y2="354.68333333333334" stroke="#666" stroke-width="0.5" />
<line x1="345.6" y1="356.96666666666664" x2="346.8" y2="356.96666666666664" stroke="#666" stroke-width="0.5" />
<line x1="345.6" y1="359.25" x2="346.8" y2="359.25" stroke="#666" stroke-width="0.5" />
<line x1="345.6" y1="361.5333333333333" x2="346.8" y2="361.5333333333333" stroke="#666" stroke-width="0.5" />
<line x1="345.6" y1="363.81666666666666" x2="346.8" y2="363.81666666666666" stroke="#666" stroke-width="0.5" />
<line x1="345.6" y1="366.1" x2="346.8" y2="366.1" stroke="#666" stroke-width="0.5" />
<line x1="345.6" y1="368.3833333333333" x2="346.8" y2="368.3833333333333" stroke="#666" stroke-width="0.5" />
<line x1="345.6" y1="370.6666666666667" x2="346.8" y2="370.6666666666667" stroke="#666" stroke-width="0.5" />
<line x1="345.6" y1="372.95" x2="346.8" y2="372.95" stroke="#666" stroke-width="0.5" />
<line x1="345.6" y1="375.23333333333335" x2="346.8" y2="375.23333333333335" stroke="#666" stroke-width="0.5" />
<line x1="345.6" y1="377.51666666666665" x2="346.8" y2="377.51666666666665" stroke="#666" stroke-width="0.5" />
<line x1="345.6" y1="379.8" x2="346.8" y2="379.8" stroke="#666" stroke-width="0.5" />
<line x1="345.6" y1="382.0833333333333" x2="346.8" y2="382.0833333333333" stroke="#666" stroke-width="0.5" />
<line x1="345.6" y1="384.3666666666667" x2="346.8" y2="384.3666666666667" stroke="#666" stroke-width="0.5" />
<line x1="345.6" y1="386.65" x2="346.8" y2="386.65" stroke="#666" stroke-width="0.5" />
<line x1="345.6" y1="388.93333333333334" x2="346.8" y2="388.93333333333334" stroke="#666" stroke-width="0.5" />
<line x1="345.6" y1="391.2166666666667" x2="346.8" y2="391.2166666666667" stroke="#666" stroke-width="0.5" />
<line x1="345.6" y1="393.5" x2="346.8" y2="393.5" stroke="#666" stroke-width="0.5" />
<line x1="346.8" y1="393.5" x2="346.8" y2="394.7" stroke="#777" stroke-width="0.5" />
<line x1="348.7625" y1="393.5" x2="348.7625" y2="394.7" stroke="#777" stroke-width="0.5" />
<line x1="350.725" y1="393.5" x2="350.725" y2="394.7" stroke="#777" stroke-width="0.5" />
<line x1="352.6875" y1="393.5" x2="352.6875" y2="394.7" stroke="#777" stroke-width="0.5" />
<line x1="354.65000000000003" y1="393.5" x2="354.65000000000003" y2="394.7" stroke="#777" stroke-width="0.5" />
<line x1="356.6125" y1="393.5" x2="356.6125" y2="394.7" stroke="#777" stroke-width="0.5" />
<line x1="358.575" y1="393.5" x2="358.575" y2="394.7" stroke="#777" stroke-width="0.5" />
<line x1="360.5375" y1="393.5" x2="360.5375" y2="394.7" stroke="#777" stroke-width="0.5" />
<line x1="362.5" y1="393.5" x2="362.5" y2="394.7" stroke="#777" stroke-width="0.5" />
<line x1="364.46250000000003" y1="393.5" x2="364.46250000000003" y2="394.7" stroke="#777" stroke-width="0.5" />
<line x1="366.425" y1="393.5" x2="366.425" y2="394.7" stroke="#777" stroke-width="0.5" />
<line x1="368.3875" y1="393.5" x2="368.3875" y2="394.7" stroke="#777" stroke-width="0.5" />
<line x1="370.35" y1="393.5" x2="370.35" y2="394.7" stroke="#777" stroke-width="0.5" />
<line x1="372.3125" y1="393.5" x2="372.3125" y2="394.7" stroke="#777" stroke-width="0.5" />
<line x1="374.27500000000003" y1="393.5" x2="374.27500000000003" y2="394.7" stroke="#777" stroke-width="0.5" />
<line x1="376.2375" y1="393.5" x2="376.2375" y2="394.7" stroke="#777" stroke-width="0.5" />
<line x1="378.2" y1="393.5" x2="378.2" y2="394.7" stroke="#777" stroke-width="0.5" />
<line x1="380.1625" y1="393.5" x2="380.1625" y2="394.7" stroke="#777" stroke-width="0.5" />
<line x1="382.125" y1="393.5" x2="382.125" y2="394.7" stroke="#777" stroke-width="0.5" />
<line x1="384.08750000000003" y1="393.5" x2="384.08750000000003" y2="394.7" stroke="#777" stroke-width="0.5" />
<line x1="386.05" y1="393.5" x2="386.05" y2="394.7" stroke="#777" stroke-width="0.5" />
<line x1="388.0125" y1="393.5" x2="388.0125" y2="394.7" stroke="#777" stroke-width="0.5" />
<line x1="389.975" y1="393.5" x2="389.975" y2="394.7" stroke="#777" stroke-width="0.5" />
<line x1="391.9375" y1="393.5" x2="391.9375" y2="394.7" stroke="#777" stroke-width="0.5" />
<line x1="393.90000000000003" y1="393.5" x2="393.90000000000003" y2="394.7" stroke="#777" stroke-width="0.5" />
<line x1="395.8625" y1="393.5" x2="395.8625" y2="394.7" stroke="#777" stroke-width="0.5" />
<line x1="397.825" y1="393.5" x2="397.825" y2="394.7" stroke="#777" stroke-width="0.5" />
<line x1="399.7875" y1="393.5" x2="399.7875" y2="394.7" stroke="#777" stroke-width="0.5" />
<line x1="401.75" y1="393.5" x2="401.75" y2="394.7" stroke="#777" stroke-width="0.5" />
<line x1="403.71250000000003" y1="393.5" x2="403.71250000000003" y2="394.7" stroke="#777" stroke-width="0.5" />
<line x1="405.675" y1="393.5" x2="405.675" y2="394.7" stroke="#777" stroke-width="0.5" />
<line x1="407.6375" y1="393.5" x2="407.6375" y2="394.7" stroke="#777" stroke-width="0.5" />
<line x1="409.6" y1="393.5" x2="409.6" y2="394.7" stroke="#777" stroke-width="0.5" />
<line x1="411.5625" y1="393.5" x2="411.5625" y2="394.7" stroke="#777" stroke-width="0.5" />
<line x1="413.525" y1="393.5" x2="413.525" y2="394.7" stroke="#777" stroke-width="0.5" />
<line x1="415.4875" y1="393.5" x2="415.4875" y2="394.7" stroke="#777" stroke-width="0.5" />
<line x1="417.45000000000005" y1="393.5" x2="417.45000000000005" y2="394.7" stroke="#777" stroke-width="0.5" />
<line x1="419.4125" y1="393.5" x2="419.4125" y2="394.7" stroke="#777" stroke-width="0.5" />
<line x1="421.375" y1="393.5" x2="421.375" y2="394.7" stroke="#777" stroke-width="0.5" />
<line x1="423.3375" y1="393.5" x2="423.3375" y2="394.7" stroke="#777" stroke-width="0.5" />
<line x1="425.3" y1="393.5" x2="425.3" y2="394.7" stroke="#777" stroke-width="0.5" />
<line x1="344.8" y1="327.6" x2="346.8" y2="327.6" stroke="#444" stroke-width="0.8" />
<text x="338.7" y="330.6" font-size="8.3" text-anchor="end" font-weight="normal" fill="#000" >120</text>
<line x1="344.8" y1="338.5" x2="346.8" y2="338.5" stroke="#444" stroke-width="0.8" />
<text x="338.7" y="341.5" font-size="8.3" text-anchor="end" font-weight="normal" fill="#000" >100</text>
<line x1="344.8" y1="349.4" x2="346.8" y2="349.4" stroke="#444" stroke-width="0.8" />
<text x="338.7" y="352.4" font-size="8.3" text-anchor="end" font-weight="normal" fill="#000" >80</text>
<line x1="344.8" y1="360.29999999999995" x2="346.8" y2="360.29999999999995" stroke="#444" stroke-width="0.8" />
<text x="338.7" y="363.29999999999995" font-size="8.3" text-anchor="end" font-weight="normal" fill="#000" >60</text>
<line x1="344.8" y1="371.20000000000005" x2="346.8" y2="371.20000000000005" stroke="#444" stroke-width="0.8" />
<text x="338.7" y="374.20000000000005" font-size="8.3" text-anchor="end" font-weight="normal" fill="#000" >40</text>
<line x1="344.8" y1="382.1" x2="346.8" y2="382.1" stroke="#444" stroke-width="0.8" />
<text x="338.7" y="385.1" font-size="8.3" text-anchor="end" font-weight="normal" fill="#000" >20</text>
<line x1="344.8" y1="393.0" x2="346.8" y2="393.0" stroke="#444" stroke-width="0.8" />
<text x="338.7" y="396.0" font-size="8.3" text-anchor="end" font-weight="normal" fill="#000" >0</text>
<text x="419.6" y="335.9" font-size="7.5" text-anchor="end" font-weight="bold" fill="#000" >KO</text>
<line x1="437" y1="325" x2="515.2" y2="325" stroke="#8a8a8a" stroke-width="1.0" />
<line x1="515.2" y1="325" x2="515.2" y2="393.5" stroke="#8a8a8a" stroke-width="1.0" />
<line x1="437" y1="325" x2="437" y2="393.5" stroke="#444" stroke-width="1.0" />
<line x1="437" y1="393.5" x2="515.2" y2="393.5" stroke="#333" stroke-width="1.0" />
<line x1="435.8" y1="325.0" x2="437" y2="325.0" stroke="#666" stroke-width="0.5" />
<line x1="435.8" y1="327.28333333333336" x2="437" y2="327.28333333333336" stroke="#666" stroke-width="0.5" />
<line x1="435.8" y1="329.56666666666666" x2="437" y2="329.56666666666666" stroke="#666" stroke-width="0.5" />
<line x1="435.8" y1="331.85" x2="437" y2="331.85" stroke="#666" stroke-width="0.5" />
<line x1="435.8" y1="334.1333333333333" x2="437" y2="334.1333333333333" stroke="#666" stroke-width="0.5" />
<line x1="435.8" y1="336.4166666666667" x2="437" y2="336.4166666666667" stroke="#666" stroke-width="0.5" />
<line x1="435.8" y1="338.7" x2="437" y2="338.7" stroke="#666" stroke-width="0.5" />
<line x1="435.8" y1="340.98333333333335" x2="437" y2="340.98333333333335" stroke="#666" stroke-width="0.5" />
<line x1="435.8" y1="343.26666666666665" x2="437" y2="343.26666666666665" stroke="#666" stroke-width="0.5" />
<line x1="435.8" y1="345.55" x2="437" y2="345.55" stroke="#666" stroke-width="0.5" />
<line x1="435.8" y1="347.8333333333333" x2="437" y2="347.8333333333333" stroke="#666" stroke-width="0.5" />
<line x1="435.8" y1="350.1166666666667" x2="437" y2="350.1166666666667" stroke="#666" stroke-width="0.5" />
<line x1="435.8" y1="352.4" x2="437" y2="352.4" stroke="#666" stroke-width="0.5" />
<line x1="435.8" y1="354.68333333333334" x2="437" y2="354.68333333333334" stroke="#666" stroke-width="0.5" />
<line x1="435.8" y1="356.96666666666664" x2="437" y2="356.96666666666664" stroke="#666" stroke-width="0.5" />
<line x1="435.8" y1="359.25" x2="437" y2="359.25" stroke="#666" stroke-width="0.5" />
<line x1="435.8" y1="361.5333333333333" x2="437" y2="361.5333333333333" stroke="#666" stroke-width="0.5" />
<line x1="435.8" y1="363.81666666666666" x2="437" y2="363.81666666666666" stroke="#666" stroke-width="0.5" />
<line x1="435.8" y1="366.1" x2="437" y2="366.1" stroke="#666" stroke-width="0.5" />
<line x1="435.8" y1="368.3833333333333" x2="437" y2="368.3833333333333" stroke="#666" stroke-width="0.5" />
<line x1="435.8" y1="370.6666666666667" x2="437" y2="370.6666666666667" stroke="#666" stroke-width="0.5" />
<line x1="435.8" y1="372.95" x2="437" y2="372.95" stroke="#666" stroke-width="0.5" />
<line x1="435.8" y1="375.23333333333335" x2="437" y2="375.23333333333335" stroke="#666" stroke-width="0.5" />
<line x1="435.8" y1="377.51666666666665" x2="437" y2="377.51666666666665" stroke="#666" stroke-width="0.5" />
<line x1="435.8" y1="379.8" x2="437" y2="379.8" stroke="#666" stroke-width="0.5" />
<line x1="435.8" y1="382.0833333333333" x2="437" y2="382.0833333333333" stroke="#666" stroke-width="0.5" />
<line x1="435.8" y1="384.3666666666667" x2="437" y2="384.3666666666667" stroke="#666" stroke-width="0.5" />
<line x1="435.8" y1="386.65" x2="437" y2="386.65" stroke="#666" stroke-width="0.5" />
<line x1="435.8" y1="388.93333333333334" x2="437" y2="388.93333333333334" stroke="#666" stroke-width="0.5" />
<line x1="435.8" y1="391.2166666666667" x2="437" y2="391.2166666666667" stroke="#666" stroke-width="0.5" />
<line x1="435.8" y1="393.5" x2="437" y2="393.5" stroke="#666" stroke-width="0.5" />
<line x1="437.0" y1="393.5" x2="437.0" y2="394.7" stroke="#777" stroke-width="0.5" />
<line x1="438.955" y1="393.5" x2="438.955" y2="394.7" stroke="#777" stroke-width="0.5" />
<line x1="440.91" y1="393.5" x2="440.91" y2="394.7" stroke="#777" stroke-width="0.5" />
<line x1="442.865" y1="393.5" x2="442.865" y2="394.7" stroke="#777" stroke-width="0.5" />
<line x1="444.82" y1="393.5" x2="444.82" y2="394.7" stroke="#777" stroke-width="0.5" />
<line x1="446.775" y1="393.5" x2="446.775" y2="394.7" stroke="#777" stroke-width="0.5" />
<line x1="448.73" y1="393.5" x2="448.73" y2="394.7" stroke="#777" stroke-width="0.5" />
<line x1="450.685" y1="393.5" x2="450.685" y2="394.7" stroke="#777" stroke-width="0.5" />
<line x1="452.64" y1="393.5" x2="452.64" y2="394.7" stroke="#777" stroke-width="0.5" />
<line x1="454.595" y1="393.5" x2="454.595" y2="394.7" stroke="#777" stroke-width="0.5" />
<line x1="456.55" y1="393.5" x2="456.55" y2="394.7" stroke="#777" stroke-width="0.5" />
<line x1="458.505" y1="393.5" x2="458.505" y2="394.7" stroke="#777" stroke-width="0.5" />
<line x1="460.46000000000004" y1="393.5" x2="460.46000000000004" y2="394.7" stroke="#777" stroke-width="0.5" />
<line x1="462.415" y1="393.5" x2="462.415" y2="394.7" stroke="#777" stroke-width="0.5" />
<line x1="464.37" y1="393.5" x2="464.37" y2="394.7" stroke="#777" stroke-width="0.5" />
<line x1="466.32500000000005" y1="393.5" x2="466.32500000000005" y2="394.7" stroke="#777" stroke-width="0.5" />
<line x1="468.28000000000003" y1="393.5" x2="468.28000000000003" y2="394.7" stroke="#777" stroke-width="0.5" />
<line x1="470.235" y1="393.5" x2="470.235" y2="394.7" stroke="#777" stroke-width="0.5" />
<line x1="472.19" y1="393.5" x2="472.19" y2="394.7" stroke="#777" stroke-width="0.5" />
<line x1="474.14500000000004" y1="393.5" x2="474.14500000000004" y2="394.7" stroke="#777" stroke-width="0.5" />
<line x1="476.1" y1="393.5" x2="476.1" y2="394.7" stroke="#777" stroke-width="0.5" />
<line x1="478.055" y1="393.5" x2="478.055" y2="394.7" stroke="#777" stroke-width="0.5" />
<line x1="480.01000000000005" y1="393.5" x2="480.01000000000005" y2="394.7" stroke="#777" stroke-width="0.5" />
<line x1="481.96500000000003" y1="393.5" x2="481.96500000000003" y2="394.7" stroke="#777" stroke-width="0.5" />
<line x1="483.92" y1="393.5" x2="483.92" y2="394.7" stroke="#777" stroke-width="0.5" />
<line x1="485.875" y1="393.5" x2="485.875" y2="394.7" stroke="#777" stroke-width="0.5" />
<line x1="487.83000000000004" y1="393.5" x2="487.83000000000004" y2="394.7" stroke="#777" stroke-width="0.5" />
<line x1="489.785" y1="393.5" x2="489.785" y2="394.7" stroke="#777" stroke-width="0.5" />
<line x1="491.74" y1="393.5" x2="491.74" y2="394.7" stroke="#777" stroke-width="0.5" />
<line x1="493.69500000000005" y1="393.5" x2="493.69500000000005" y2="394.7" stroke="#777" stroke-width="0.5" />
<line x1="495.65000000000003" y1="393.5" x2="495.65000000000003" y2="394.7" stroke="#777" stroke-width="0.5" />
<line x1="497.605" y1="393.5" x2="497.605" y2="394.7" stroke="#777" stroke-width="0.5" />
<line x1="499.56000000000006" y1="393.5" x2="499.56000000000006" y2="394.7" stroke="#777" stroke-width="0.5" />
<line x1="501.51500000000004" y1="393.5" x2="501.51500000000004" y2="394.7" stroke="#777" stroke-width="0.5" />
<line x1="503.47" y1="393.5" x2="503.47" y2="394.7" stroke="#777" stroke-width="0.5" />
<line x1="505.42500000000007" y1="393.5" x2="505.42500000000007" y2="394.7" stroke="#777" stroke-width="0.5" />
<line x1="507.38000000000005" y1="393.5" x2="507.38000000000005" y2="394.7" stroke="#777" stroke-width="0.5" />
<line x1="509.33500000000004" y1="393.5" x2="509.33500000000004" y2="394.7" stroke="#777" stroke-width="0.5" />
<line x1="511.2900000000001" y1="393.5" x2="511.2900000000001" y2="394.7" stroke="#777" stroke-width="0.5" />
<line x1="513.245" y1="393.5" x2="513.245" y2="394.7" stroke="#777" stroke-width="0.5" />
<line x1="515.2" y1="393.5" x2="515.2" y2="394.7" stroke="#777" stroke-width="0.5" />
<line x1="435" y1="327.6" x2="437" y2="327.6" stroke="#444" stroke-width="0.8" />
<line x1="435" y1="338.5" x2="437" y2="338.5" stroke="#444" stroke-width="0.8" />
<line x1="435" y1="349.4" x2="437" y2="349.4" stroke="#444" stroke-width="0.8" />
<line x1="435" y1="360.29999999999995" x2="437" y2="360.29999999999995" stroke="#444" stroke-width="0.8" />
<line x1="435" y1="371.20000000000005" x2="437" y2="371.20000000000005" stroke="#444" stroke-width="0.8" />
<line x1="435" y1="382.1" x2="437" y2="382.1" stroke="#444" stroke-width="0.8" />
<line x1="435" y1="393.0" x2="437" y2="393.0" stroke="#444" stroke-width="0.8" />
<text x="509.6" y="335.9" font-size="7.5" text-anchor="end" font-weight="bold" fill="#000" >KO</text>
<text x="64.1" y="406.2" font-size="7.8" text-anchor="middle">10<tspan font-size="5.0" dy="-2.3">0</tspan></text>
<text x="82.6" y="406.2" font-size="7.8" text-anchor="middle">10<tspan font-size="5.0" dy="-2.3">1</tspan></text>
<text x="101.0" y="406.2" font-size="7.8" text-anchor="middle">10<tspan font-size="5.0" dy="-2.3">2</tspan></text>
<text x="119.5" y="406.2" font-size="7.8" text-anchor="middle">10<tspan font-size="5.0" dy="-2.3">3</tspan></text>
<text x="138.0" y="406.2" font-size="7.8" text-anchor="middle">10<tspan font-size="5.0" dy="-2.3">4</tspan></text>
<text x="161.3" y="406.2" font-size="7.8" text-anchor="middle">10<tspan font-size="5.0" dy="-2.3">0</tspan></text>
<text x="179.5" y="406.2" font-size="7.8" text-anchor="middle">10<tspan font-size="5.0" dy="-2.3">1</tspan></text>
<text x="197.6" y="406.2" font-size="7.8" text-anchor="middle">10<tspan font-size="5.0" dy="-2.3">2</tspan></text>
<text x="215.8" y="406.2" font-size="7.8" text-anchor="middle">10<tspan font-size="5.0" dy="-2.3">3</tspan></text>
<text x="233.9" y="406.2" font-size="7.8" text-anchor="middle">10<tspan font-size="5.0" dy="-2.3">4</tspan></text>
<text x="351.2" y="406.6" font-size="7.8" text-anchor="middle">10<tspan font-size="5.0" dy="-2.3">0</tspan></text>
<text x="368.4" y="406.6" font-size="7.8" text-anchor="middle">10<tspan font-size="5.0" dy="-2.3">1</tspan></text>
<text x="385.6" y="406.6" font-size="7.8" text-anchor="middle">10<tspan font-size="5.0" dy="-2.3">2</tspan></text>
<text x="402.8" y="406.6" font-size="7.8" text-anchor="middle">10<tspan font-size="5.0" dy="-2.3">3</tspan></text>
<text x="420.0" y="406.6" font-size="7.8" text-anchor="middle">10<tspan font-size="5.0" dy="-2.3">4</tspan></text>
<text x="441.2" y="406.6" font-size="7.8" text-anchor="middle">10<tspan font-size="5.0" dy="-2.3">0</tspan></text>
<text x="458.4" y="406.6" font-size="7.8" text-anchor="middle">10<tspan font-size="5.0" dy="-2.3">1</tspan></text>
<text x="475.6" y="406.6" font-size="7.8" text-anchor="middle">10<tspan font-size="5.0" dy="-2.3">2</tspan></text>
<text x="492.8" y="406.6" font-size="7.8" text-anchor="middle">10<tspan font-size="5.0" dy="-2.3">3</tspan></text>
<text x="510.0" y="406.6" font-size="7.8" text-anchor="middle">10<tspan font-size="5.0" dy="-2.3">4</tspan></text>
<line x1="60.1" y1="418.4" x2="236" y2="418.4" stroke="#707070" stroke-width="1.1" />
<path d="M234,415.79999999999995 L241,418.4 L234,421.0 Z" fill="#000"/>
<line x1="346.2" y1="418.7" x2="509.79999999999995" y2="418.7" stroke="#707070" stroke-width="1.1" />
<path d="M507.79999999999995,416.09999999999997 L514.8,418.7 L507.79999999999995,421.3 Z" fill="#000"/>
<line x1="24.9" y1="246.3" x2="24.9" y2="396.6" stroke="#777" stroke-width="1.0" />
<path d="M22.299999999999997,247.10000000000002 L24.9,241.3 L27.5,247.10000000000002 Z" fill="#000"/>
<line x1="311.2" y1="246.3" x2="311.2" y2="396.6" stroke="#777" stroke-width="1.0" />
<path d="M309.0,247.10000000000002 L311.2,241.3 L313.4,247.10000000000002 Z" fill="#000"/>
<text x="149.5" y="435.0" font-size="11" text-anchor="middle" font-weight="normal" fill="#000" >P-selectin</text>
<text x="433.5" y="434.2" font-size="11" text-anchor="middle" font-weight="normal" fill="#000" >JON/A</text>
<text transform="translate(16.3,322.6) rotate(-90)" font-size="11" text-anchor="middle">Cell counts</text>
<text transform="translate(302.3,322.6) rotate(-90)" font-size="11" text-anchor="middle">Cell counts</text>
<path d="M61.00,301.60 L61.55,301.38 L62.10,301.53 L62.65,301.34 L63.20,301.77 L63.75,302.79 L64.30,301.83 L64.85,301.24 L65.40,300.92 L65.95,301.23 L66.50,301.51 L67.05,299.07 L67.60,299.86 L68.15,300.59 L68.70,300.68 L69.25,300.58 L69.80,300.44 L70.35,301.45 L70.90,301.05 L71.45,299.86 L72.00,299.71 L72.55,297.83 L73.10,299.73 L73.65,300.63 L74.20,296.98 L74.75,302.55 L75.30,298.67 L75.85,300.10 L76.40,298.52 L76.95,300.32 L77.50,298.40 L78.05,298.27 L78.60,301.03 L79.15,298.70 L79.70,299.03 L80.25,300.17 L80.80,297.34 L81.35,298.69 L81.90,296.97 L82.45,296.48 L83.00,297.58 L83.55,295.67 L84.10,295.63 L84.65,296.55 L85.20,295.23 L85.75,293.36 L86.30,294.06 L86.85,295.08 L87.40,297.23 L87.95,296.24 L88.50,291.28 L89.05,292.95 L89.60,293.69 L90.15,292.83 L90.70,291.20 L91.25,289.24 L91.80,291.28 L92.35,287.82 L92.90,287.67 L93.45,285.88 L94.00,284.77 L94.55,284.95 L95.10,284.19 L95.65,283.96 L96.20,280.98 L96.75,280.59 L97.30,277.29 L97.85,279.11 L98.40,274.01 L98.95,275.80 L99.50,274.33 L100.05,270.04 L100.60,270.40 L101.15,266.16 L101.70,262.71 L102.25,262.98 L102.80,258.02 L103.35,257.55 L103.90,255.66 L104.45,255.70 L105.00,255.08 L105.55,256.60 L106.10,255.62 L106.65,255.49 L107.20,253.87 L107.75,253.35 L108.30,252.63 L108.85,254.97 L109.40,256.94 L109.95,260.31 L110.50,263.04 L111.05,265.28 L111.60,267.77 L112.15,271.35 L112.70,274.42 L113.25,276.84 L113.80,279.43 L114.35,285.58 L114.90,287.32 L115.45,290.60 L116.00,294.60 L116.55,296.21 L117.10,298.53 L117.65,300.61 L118.20,301.44 L118.75,303.69 L119.30,303.14 L119.85,304.05 L120.40,302.92 L120.95,303.94 L121.50,304.26 L122.05,304.55 L122.60,304.61 L123.15,304.80 L123.70,304.61 L124.25,304.13 L124.80,304.75 L125.35,304.59 L125.90,304.71 L126.45,304.64 L127.00,304.83 L127.55,304.85 L128.10,304.96 L128.65,304.16 L129.20,304.89 L129.75,304.84 L130.30,304.75 L130.85,304.19 L131.40,304.56 L131.95,304.92 L132.50,305.01 L133.05,305.04 L133.60,304.42 L134.15,304.93 L134.70,305.20 L135.25,304.63 L135.80,304.93 L136.35,305.01 L136.90,304.81 L137.45,304.72 L138.00,305.03 L138.55,304.75 L139.10,304.88 L139.65,305.20 L140.20,304.87 L140.75,305.10 L141.30,304.80 L141.85,305.00 L142.40,304.98 L142.95,304.58" fill="none" stroke="#b4b4b4" stroke-width="1.1" stroke-linejoin="round" stroke-linecap="round" />
<path d="M61.00,295.57 L61.42,293.63 L61.84,298.70 L62.26,294.60 L62.68,293.68 L63.10,289.82 L63.52,293.92 L63.94,294.69 L64.36,294.38 L64.78,294.90 L65.20,292.67 L65.62,295.23 L66.04,292.99 L66.46,293.61 L66.88,294.36 L67.30,293.82 L67.72,293.78 L68.14,294.85 L68.56,293.39 L68.98,297.46 L69.40,293.54 L69.82,293.55 L70.24,288.18 L70.66,292.32 L71.08,293.41 L71.50,291.23 L71.92,292.03 L72.34,293.52 L72.76,290.58 L73.18,291.90 L73.60,291.03 L74.02,291.50 L74.44,290.35 L74.86,290.50 L75.28,289.87 L75.70,290.85 L76.12,289.68 L76.54,290.12 L76.96,290.96 L77.38,290.85 L77.80,289.60 L78.22,290.18 L78.64,291.44 L79.06,288.56 L79.48,291.04 L79.90,288.86 L80.32,286.07 L80.74,294.05 L81.16,287.26 L81.58,289.74 L82.00,288.94 L82.42,288.26 L82.84,288.35 L83.26,289.23 L83.68,286.14 L84.10,288.42 L84.52,288.41 L84.94,287.24 L85.36,285.18 L85.78,284.99 L86.20,286.24 L86.62,288.96 L87.04,284.64 L87.46,284.75 L87.88,285.71 L88.30,284.80 L88.72,283.84 L89.14,284.23 L89.56,282.30 L89.98,283.37 L90.40,280.21 L90.82,282.83 L91.24,282.23 L91.66,280.34 L92.08,279.21 L92.50,282.40 L92.92,279.54 L93.34,277.88 L93.76,276.29 L94.18,277.01 L94.60,273.36 L95.02,271.93 L95.44,272.63 L95.86,269.81 L96.28,272.82 L96.70,272.02 L97.12,266.00 L97.54,269.55 L97.96,270.35 L98.38,272.53 L98.80,270.86 L99.22,267.61 L99.64,266.65 L100.06,268.58 L100.48,270.04 L100.90,272.44 L101.32,273.88 L101.74,270.23 L102.16,276.12 L102.58,275.97 L103.00,273.30 L103.42,278.21 L103.84,279.56 L104.26,281.16 L104.68,281.80 L105.10,284.72 L105.52,284.38 L105.94,286.69 L106.36,289.27 L106.78,292.10 L107.20,292.14 L107.62,290.30 L108.04,297.88 L108.46,299.31 L108.88,300.63 L109.30,301.55 L109.72,303.03 L110.14,300.35 L110.56,305.14 L110.98,305.20 L111.40,304.57 L111.82,304.35 L112.24,304.80 L112.66,304.67 L113.08,303.87 L113.50,304.97 L113.92,305.15 L114.34,304.85 L114.76,304.10 L115.18,304.69 L115.60,304.16 L116.02,305.00 L116.44,304.98 L116.86,304.93 L117.28,305.01 L117.70,304.85 L118.12,304.99 L118.54,305.13 L118.96,305.12 L119.38,304.94 L119.80,305.17 L120.22,304.76 L120.64,304.31 L121.06,305.20 L121.48,304.69 L121.90,305.04 L122.32,305.15 L122.74,305.20 L123.16,305.06 L123.58,305.20 L124.00,304.97 L124.42,305.10 L124.84,305.20 L125.26,305.10 L125.68,304.71 L126.10,305.12 L126.52,304.76 L126.94,305.20 L127.36,304.68 L127.78,304.99 L128.20,305.20 L128.62,304.89 L129.04,305.20 L129.46,304.99 L129.88,305.08 L130.30,304.91 L130.72,304.92 L131.14,304.75 L131.56,305.20 L131.98,304.84 L132.40,304.74 L132.82,305.09 L133.24,304.25 L133.66,304.92 L134.08,304.90 L134.50,304.89 L134.92,304.97 L135.34,305.20 L135.76,305.08 L136.18,305.20 L136.60,305.20 L137.02,304.93 L137.44,305.10 L137.86,304.16 L138.28,305.20 L138.70,304.78 L139.12,304.86 L139.54,304.82 L139.96,305.09 L140.38,305.06 L140.80,305.20 L141.22,305.20 L141.64,304.98 L142.06,305.14 L142.48,304.83 L142.90,305.15" fill="none" stroke="#1a1a1a" stroke-width="0.9" stroke-linejoin="round" stroke-linecap="round" />
<path d="M159.00,303.49 L159.55,303.62 L160.10,302.94 L160.65,301.97 L161.20,302.68 L161.75,303.36 L162.30,301.69 L162.85,302.48 L163.40,302.58 L163.95,303.29 L164.50,303.28 L165.05,303.38 L165.60,302.53 L166.15,302.76 L166.70,302.82 L167.25,302.53 L167.80,302.43 L168.35,304.10 L168.90,302.89 L169.45,303.95 L170.00,302.08 L170.55,302.29 L171.10,302.13 L171.65,302.49 L172.20,302.43 L172.75,302.58 L173.30,303.86 L173.85,302.07 L174.40,302.80 L174.95,300.61 L175.50,302.03 L176.05,302.41 L176.60,301.66 L177.15,301.70 L177.70,301.86 L178.25,301.64 L178.80,301.47 L179.35,300.82 L179.90,299.64 L180.45,299.31 L181.00,300.15 L181.55,299.06 L182.10,299.57 L182.65,298.46 L183.20,299.02 L183.75,298.72 L184.30,298.48 L184.85,297.32 L185.40,298.68 L185.95,295.73 L186.50,294.80 L187.05,294.91 L187.60,293.61 L188.15,294.09 L188.70,293.41 L189.25,293.01 L189.80,290.90 L190.35,292.07 L190.90,289.94 L191.45,290.48 L192.00,289.19 L192.55,286.94 L193.10,285.35 L193.65,283.49 L194.20,282.09 L194.75,281.70 L195.30,281.73 L195.85,277.86 L196.40,275.31 L196.95,273.00 L197.50,270.96 L198.05,269.23 L198.60,267.83 L199.15,264.39 L199.70,264.71 L200.25,262.61 L200.80,260.54 L201.35,258.23 L201.90,254.70 L202.45,256.67 L203.00,253.20 L203.55,251.46 L204.10,251.44 L204.65,246.86 L205.20,248.04 L205.75,246.50 L206.30,246.55 L206.85,247.67 L207.40,244.52 L207.95,247.59 L208.50,247.96 L209.05,250.51 L209.60,254.26 L210.15,254.17 L210.70,260.86 L211.25,264.71 L211.80,268.38 L212.35,273.07 L212.90,277.67 L213.45,283.83 L214.00,286.60 L214.55,289.86 L215.10,294.44 L215.65,297.94 L216.20,301.21 L216.75,301.79 L217.30,304.60 L217.85,304.60 L218.40,303.99 L218.95,304.21 L219.50,303.73 L220.05,303.88 L220.60,304.61 L221.15,304.93 L221.70,305.02 L222.25,304.97 L222.80,304.81 L223.35,304.86 L223.90,304.86 L224.45,305.20 L225.00,304.99 L225.55,304.90 L226.10,304.81 L226.65,305.10 L227.20,304.89 L227.75,305.20 L228.30,304.81 L228.85,304.86 L229.40,304.94 L229.95,305.20 L230.50,305.04 L231.05,304.85 L231.60,305.04 L232.15,304.55 L232.70,305.11 L233.25,304.95 L233.80,305.00 L234.35,304.97 L234.90,304.98 L235.45,304.94 L236.00,305.16 L236.55,304.95 L237.10,305.20 L237.65,305.17 L238.20,305.20 L238.75,305.16 L239.30,305.20 L239.85,305.20 L240.40,305.01 L240.95,305.02" fill="none" stroke="#b4b4b4" stroke-width="1.1" stroke-linejoin="round" stroke-linecap="round" />
<path d="M159.00,291.91 L159.42,296.14 L159.84,294.49 L160.26,294.73 L160.68,293.63 L161.10,296.36 L161.52,293.95 L161.94,295.19 L162.36,297.91 L162.78,293.16 L163.20,292.92 L163.62,296.04 L164.04,295.99 L164.46,294.51 L164.88,294.70 L165.30,297.25 L165.72,297.73 L166.14,293.52 L166.56,294.65 L166.98,292.03 L167.40,291.87 L167.82,291.54 L168.24,291.73 L168.66,291.55 L169.08,293.56 L169.50,292.62 L169.92,292.44 L170.34,291.10 L170.76,291.49 L171.18,293.91 L171.60,288.34 L172.02,291.89 L172.44,291.64 L172.86,290.03 L173.28,291.05 L173.70,290.78 L174.12,289.43 L174.54,291.93 L174.96,287.57 L175.38,292.14 L175.80,289.40 L176.22,289.44 L176.64,288.06 L177.06,286.50 L177.48,289.28 L177.90,288.00 L178.32,288.19 L178.74,289.94 L179.16,284.33 L179.58,287.49 L180.00,289.36 L180.42,288.41 L180.84,288.65 L181.26,285.97 L181.68,286.50 L182.10,285.48 L182.52,282.97 L182.94,284.75 L183.36,284.17 L183.78,283.60 L184.20,288.77 L184.62,284.18 L185.04,280.70 L185.46,282.54 L185.88,283.68 L186.30,284.26 L186.72,282.49 L187.14,285.70 L187.56,280.80 L187.98,284.13 L188.40,281.97 L188.82,278.33 L189.24,278.89 L189.66,279.88 L190.08,279.45 L190.50,280.36 L190.92,278.04 L191.34,279.87 L191.76,276.19 L192.18,270.03 L192.60,274.80 L193.02,271.23 L193.44,270.79 L193.86,272.01 L194.28,270.47 L194.70,267.71 L195.12,269.81 L195.54,266.53 L195.96,272.80 L196.38,270.07 L196.80,271.52 L197.22,265.42 L197.64,270.97 L198.06,271.66 L198.48,275.45 L198.90,275.92 L199.32,276.85 L199.74,278.78 L200.16,280.25 L200.58,279.89 L201.00,281.12 L201.42,284.15 L201.84,284.37 L202.26,288.78 L202.68,288.54 L203.10,290.70 L203.52,290.77 L203.94,289.50 L204.36,294.19 L204.78,300.58 L205.20,297.65 L205.62,300.85 L206.04,300.04 L206.46,300.29 L206.88,301.05 L207.30,302.04 L207.72,299.57 L208.14,302.87 L208.56,303.78 L208.98,301.57 L209.40,304.28 L209.82,303.45 L210.24,304.55 L210.66,304.73 L211.08,304.08 L211.50,304.78 L211.92,304.26 L212.34,304.91 L212.76,303.46 L213.18,304.13 L213.60,304.75 L214.02,303.19 L214.44,304.42 L214.86,304.11 L215.28,304.59 L215.70,304.70 L216.12,304.92 L216.54,303.47 L216.96,304.61 L217.38,304.14 L217.80,305.00 L218.22,304.20 L218.64,304.98 L219.06,304.64 L219.48,304.99 L219.90,305.20 L220.32,304.72 L220.74,304.94 L221.16,305.20 L221.58,305.20 L222.00,304.74 L222.42,305.20 L222.84,304.67 L223.26,304.68 L223.68,304.83 L224.10,304.38 L224.52,304.29 L224.94,304.31 L225.36,304.68 L225.78,305.02 L226.20,305.03 L226.62,304.94 L227.04,304.94 L227.46,304.91 L227.88,304.51 L228.30,304.87 L228.72,304.77 L229.14,304.01 L229.56,304.56 L229.98,305.20 L230.40,304.59 L230.82,304.51 L231.24,305.20 L231.66,305.20 L232.08,304.81 L232.50,305.02 L232.92,304.58 L233.34,305.02 L233.76,305.20 L234.18,304.64 L234.60,304.99 L235.02,304.88 L235.44,304.87 L235.86,305.20 L236.28,304.94 L236.70,304.61 L237.12,305.20 L237.54,304.01 L237.96,304.90 L238.38,304.87 L238.80,304.89 L239.22,305.10 L239.64,304.98 L240.06,305.16 L240.48,304.98 L240.90,305.20" fill="none" stroke="#1a1a1a" stroke-width="0.9" stroke-linejoin="round" stroke-linecap="round" />
<path d="M61.50,379.83 L62.05,380.18 L62.60,379.84 L63.15,381.44 L63.70,382.20 L64.25,380.61 L64.80,380.47 L65.35,380.35 L65.90,381.90 L66.45,380.34 L67.00,381.03 L67.55,380.89 L68.10,379.96 L68.65,380.48 L69.20,381.69 L69.75,380.27 L70.30,381.53 L70.85,381.25 L71.40,377.39 L71.95,380.56 L72.50,378.56 L73.05,378.72 L73.60,380.34 L74.15,378.22 L74.70,380.10 L75.25,379.76 L75.80,378.30 L76.35,376.64 L76.90,376.29 L77.45,376.28 L78.00,376.89 L78.55,376.07 L79.10,374.35 L79.65,376.82 L80.20,377.01 L80.75,373.11 L81.30,370.22 L81.85,375.75 L82.40,372.80 L82.95,372.46 L83.50,374.53 L84.05,371.85 L84.60,372.13 L85.15,370.36 L85.70,371.95 L86.25,369.68 L86.80,369.73 L87.35,369.77 L87.90,372.17 L88.45,367.39 L89.00,367.64 L89.55,367.49 L90.10,364.30 L90.65,365.93 L91.20,366.01 L91.75,364.06 L92.30,364.04 L92.85,365.00 L93.40,363.61 L93.95,364.22 L94.50,362.26 L95.05,362.81 L95.60,360.96 L96.15,361.12 L96.70,360.47 L97.25,357.55 L97.80,359.44 L98.35,357.40 L98.90,357.59 L99.45,356.33 L100.00,357.18 L100.55,356.18 L101.10,357.79 L101.65,359.42 L102.20,361.01 L102.75,361.63 L103.30,364.11 L103.85,366.99 L104.40,367.86 L104.95,366.38 L105.50,369.63 L106.05,372.92 L106.60,374.65 L107.15,376.26 L107.70,376.82 L108.25,382.10 L108.80,380.27 L109.35,384.16 L109.90,385.81 L110.45,386.74 L111.00,389.27 L111.55,390.32 L112.10,391.61 L112.65,390.13 L113.20,390.56 L113.75,391.38 L114.30,392.07 L114.85,392.07 L115.40,392.28 L115.95,392.31 L116.50,392.60 L117.05,392.54 L117.60,392.33 L118.15,392.19 L118.70,392.33 L119.25,392.42 L119.80,392.25 L120.35,392.31 L120.90,392.60 L121.45,391.90 L122.00,392.54 L122.55,391.75 L123.10,392.37 L123.65,391.80 L124.20,392.33 L124.75,392.51 L125.30,392.36 L125.85,392.33 L126.40,392.55 L126.95,392.31 L127.50,392.60 L128.05,392.47 L128.60,391.92 L129.15,392.50 L129.70,392.55 L130.25,392.60 L130.80,392.30 L131.35,392.28 L131.90,392.55 L132.45,392.28 L133.00,392.50 L133.55,392.46 L134.10,392.55 L134.65,392.53 L135.20,392.58 L135.75,392.05 L136.30,392.41 L136.85,392.49 L137.40,392.38 L137.95,392.53 L138.50,392.42 L139.05,392.60 L139.60,392.53 L140.15,392.30 L140.70,392.46 L141.25,392.14 L141.80,392.53 L142.35,392.44 L142.90,392.44" fill="none" stroke="#b4b4b4" stroke-width="1.1" stroke-linejoin="round" stroke-linecap="round" />
<path d="M61.50,379.63 L61.92,379.24 L62.34,379.74 L62.76,379.39 L63.18,383.11 L63.60,380.01 L64.02,376.40 L64.44,378.22 L64.86,373.14 L65.28,375.63 L65.70,377.52 L66.12,376.25 L66.54,376.70 L66.96,377.34 L67.38,378.73 L67.80,377.79 L68.22,374.36 L68.64,378.97 L69.06,377.45 L69.48,378.36 L69.90,382.61 L70.32,381.13 L70.74,378.63 L71.16,373.82 L71.58,373.25 L72.00,378.75 L72.42,372.94 L72.84,376.38 L73.26,378.74 L73.68,377.75 L74.10,376.29 L74.52,373.37 L74.94,377.05 L75.36,373.08 L75.78,380.02 L76.20,375.21 L76.62,372.00 L77.04,373.38 L77.46,373.27 L77.88,373.10 L78.30,372.66 L78.72,370.54 L79.14,371.22 L79.56,372.51 L79.98,371.31 L80.40,366.03 L80.82,367.60 L81.24,366.90 L81.66,371.98 L82.08,367.39 L82.50,370.02 L82.92,368.12 L83.34,367.77 L83.76,369.08 L84.18,365.58 L84.60,370.62 L85.02,370.13 L85.44,369.24 L85.86,364.91 L86.28,367.71 L86.70,367.27 L87.12,372.56 L87.54,371.60 L87.96,370.76 L88.38,365.44 L88.80,366.62 L89.22,364.22 L89.64,365.06 L90.06,360.39 L90.48,360.58 L90.90,364.28 L91.32,364.87 L91.74,365.16 L92.16,361.74 L92.58,364.40 L93.00,362.66 L93.42,360.89 L93.84,362.42 L94.26,358.02 L94.68,361.33 L95.10,361.06 L95.52,358.34 L95.94,359.69 L96.36,357.62 L96.78,357.73 L97.20,358.19 L97.62,356.65 L98.04,353.49 L98.46,352.29 L98.88,356.75 L99.30,358.74 L99.72,359.21 L100.14,355.95 L100.56,356.63 L100.98,357.18 L101.40,360.68 L101.82,356.80 L102.24,361.97 L102.66,366.66 L103.08,363.97 L103.50,364.32 L103.92,362.22 L104.34,369.34 L104.76,368.44 L105.18,369.97 L105.60,375.21 L106.02,374.36 L106.44,377.09 L106.86,376.68 L107.28,375.25 L107.70,382.02 L108.12,382.51 L108.54,389.53 L108.96,387.55 L109.38,388.72 L109.80,386.83 L110.22,391.55 L110.64,389.32 L111.06,389.34 L111.48,391.53 L111.90,391.11 L112.32,392.03 L112.74,391.07 L113.16,392.60 L113.58,391.66 L114.00,391.79 L114.42,391.14 L114.84,392.48 L115.26,391.37 L115.68,392.50 L116.10,392.55 L116.52,392.55 L116.94,392.18 L117.36,392.60 L117.78,392.12 L118.20,392.54 L118.62,392.35 L119.04,392.47 L119.46,392.57 L119.88,392.12 L120.30,392.60 L120.72,391.52 L121.14,392.60 L121.56,392.41 L121.98,392.17 L122.40,392.12 L122.82,392.13 L123.24,392.26 L123.66,391.57 L124.08,392.60 L124.50,392.46 L124.92,392.60 L125.34,392.23 L125.76,392.51 L126.18,392.60 L126.60,392.22 L127.02,391.71 L127.44,392.42 L127.86,392.60 L128.28,391.61 L128.70,392.08 L129.12,392.60 L129.54,392.10 L129.96,392.60 L130.38,392.39 L130.80,392.33 L131.22,392.28 L131.64,392.60 L132.06,392.10 L132.48,392.60 L132.90,392.52 L133.32,391.89 L133.74,391.70 L134.16,392.37 L134.58,391.62 L135.00,392.32 L135.42,392.29 L135.84,392.60 L136.26,392.60 L136.68,391.78 L137.10,392.60 L137.52,392.40 L137.94,392.60 L138.36,392.60 L138.78,392.21 L139.20,392.39 L139.62,392.32 L140.04,392.24 L140.46,392.60 L140.88,392.60 L141.30,392.60 L141.72,392.30 L142.14,392.57 L142.56,391.75 L142.98,392.60" fill="none" stroke="#1a1a1a" stroke-width="0.9" stroke-linejoin="round" stroke-linecap="round" />
<path d="M158.50,390.03 L159.05,389.18 L159.60,389.67 L160.15,388.65 L160.70,391.08 L161.25,389.59 L161.80,389.13 L162.35,389.16 L162.90,387.09 L163.45,388.00 L164.00,388.49 L164.55,388.66 L165.10,387.47 L165.65,387.23 L166.20,387.97 L166.75,388.11 L167.30,388.08 L167.85,387.58 L168.40,387.30 L168.95,388.17 L169.50,386.21 L170.05,387.23 L170.60,388.99 L171.15,387.79 L171.70,386.37 L172.25,387.17 L172.80,386.64 L173.35,386.41 L173.90,388.95 L174.45,385.67 L175.00,385.95 L175.55,384.41 L176.10,384.84 L176.65,384.37 L177.20,385.05 L177.75,383.33 L178.30,384.83 L178.85,381.40 L179.40,384.33 L179.95,382.79 L180.50,382.15 L181.05,379.56 L181.60,384.66 L182.15,382.31 L182.70,383.19 L183.25,381.67 L183.80,380.39 L184.35,377.86 L184.90,379.30 L185.45,379.71 L186.00,378.23 L186.55,378.82 L187.10,377.46 L187.65,377.77 L188.20,379.54 L188.75,375.97 L189.30,375.50 L189.85,377.08 L190.40,375.66 L190.95,371.62 L191.50,374.59 L192.05,372.49 L192.60,372.18 L193.15,371.11 L193.70,370.29 L194.25,369.77 L194.80,368.15 L195.35,367.42 L195.90,365.36 L196.45,366.54 L197.00,363.02 L197.55,359.92 L198.10,358.03 L198.65,354.43 L199.20,353.78 L199.75,351.42 L200.30,344.04 L200.85,341.99 L201.40,334.81 L201.95,331.89 L202.50,335.81 L203.05,339.97 L203.60,339.99 L204.15,340.38 L204.70,337.74 L205.25,337.90 L205.80,338.41 L206.35,341.58 L206.90,338.77 L207.45,342.86 L208.00,343.79 L208.55,348.62 L209.10,351.21 L209.65,354.87 L210.20,359.74 L210.75,364.64 L211.30,367.24 L211.85,370.71 L212.40,375.21 L212.95,381.57 L213.50,383.14 L214.05,385.49 L214.60,388.24 L215.15,386.36 L215.70,389.65 L216.25,390.56 L216.80,390.92 L217.35,391.83 L217.90,391.48 L218.45,391.35 L219.00,391.86 L219.55,391.82 L220.10,392.20 L220.65,392.31 L221.20,391.98 L221.75,392.31 L222.30,391.93 L222.85,392.59 L223.40,392.31 L223.95,392.11 L224.50,391.95 L225.05,392.36 L225.60,392.09 L226.15,391.71 L226.70,392.15 L227.25,392.30 L227.80,392.35 L228.35,392.60 L228.90,392.18 L229.45,392.45 L230.00,392.33 L230.55,392.26 L231.10,392.39 L231.65,392.49 L232.20,392.29 L232.75,392.17 L233.30,392.45 L233.85,392.31 L234.40,392.51 L234.95,392.27 L235.50,392.56 L236.05,392.39 L236.60,392.37 L237.15,392.41 L237.70,392.31 L238.25,392.60 L238.80,392.13 L239.35,392.60 L239.90,392.60 L240.45,392.50 L241.00,392.51" fill="none" stroke="#b4b4b4" stroke-width="1.1" stroke-linejoin="round" stroke-linecap="round" />
<path d="M158.50,378.58 L158.92,376.85 L159.34,377.85 L159.76,377.66 L160.18,376.86 L160.60,377.04 L161.02,378.65 L161.44,379.15 L161.86,376.54 L162.28,377.69 L162.70,377.99 L163.12,378.50 L163.54,376.50 L163.96,380.56 L164.38,377.23 L164.80,377.13 L165.22,377.30 L165.64,375.45 L166.06,378.26 L166.48,373.29 L166.90,377.63 L167.32,380.45 L167.74,375.24 L168.16,377.45 L168.58,377.30 L169.00,375.89 L169.42,375.81 L169.84,374.89 L170.26,379.05 L170.68,376.05 L171.10,376.62 L171.52,375.47 L171.94,373.94 L172.36,376.54 L172.78,376.20 L173.20,374.65 L173.62,374.47 L174.04,373.46 L174.46,375.88 L174.88,373.02 L175.30,374.15 L175.72,376.91 L176.14,376.30 L176.56,374.11 L176.98,370.80 L177.40,371.34 L177.82,371.78 L178.24,372.83 L178.66,372.36 L179.08,369.79 L179.50,369.26 L179.92,370.53 L180.34,370.75 L180.76,373.78 L181.18,370.80 L181.60,370.32 L182.02,366.93 L182.44,368.84 L182.86,366.48 L183.28,367.80 L183.70,370.32 L184.12,366.29 L184.54,371.01 L184.96,366.28 L185.38,365.06 L185.80,366.44 L186.22,364.89 L186.64,368.22 L187.06,367.78 L187.48,363.69 L187.90,365.01 L188.32,363.58 L188.74,362.38 L189.16,367.68 L189.58,361.56 L190.00,361.00 L190.42,362.30 L190.84,361.96 L191.26,362.53 L191.68,361.87 L192.10,359.19 L192.52,362.14 L192.94,362.01 L193.36,364.07 L193.78,357.97 L194.20,355.75 L194.62,361.88 L195.04,362.00 L195.46,358.78 L195.88,356.61 L196.30,358.87 L196.72,358.26 L197.14,358.98 L197.56,359.39 L197.98,364.49 L198.40,361.24 L198.82,361.34 L199.24,366.37 L199.66,365.96 L200.08,373.71 L200.50,370.55 L200.92,374.13 L201.34,370.93 L201.76,377.90 L202.18,377.52 L202.60,380.59 L203.02,380.02 L203.44,383.05 L203.86,384.55 L204.28,384.23 L204.70,385.30 L205.12,388.46 L205.54,389.99 L205.96,387.73 L206.38,389.53 L206.80,390.31 L207.22,391.30 L207.64,392.25 L208.06,390.68 L208.48,391.97 L208.90,392.03 L209.32,392.12 L209.74,391.21 L210.16,392.27 L210.58,391.63 L211.00,392.23 L211.42,392.20 L211.84,392.12 L212.26,392.33 L212.68,391.85 L213.10,391.83 L213.52,392.00 L213.94,392.11 L214.36,392.60 L214.78,391.84 L215.20,392.07 L215.62,392.08 L216.04,392.44 L216.46,391.99 L216.88,392.40 L217.30,391.96 L217.72,392.60 L218.14,392.36 L218.56,392.06 L218.98,391.84 L219.40,391.81 L219.82,392.37 L220.24,392.45 L220.66,392.60 L221.08,391.95 L221.50,392.33 L221.92,392.24 L222.34,392.01 L222.76,392.23 L223.18,392.42 L223.60,392.17 L224.02,392.18 L224.44,392.27 L224.86,392.14 L225.28,392.02 L225.70,392.60 L226.12,392.18 L226.54,392.32 L226.96,392.26 L227.38,392.16 L227.80,391.58 L228.22,392.10 L228.64,392.24 L229.06,392.60 L229.48,392.41 L229.90,392.60 L230.32,392.53 L230.74,392.38 L231.16,392.11 L231.58,392.01 L232.00,392.60 L232.42,392.11 L232.84,391.48 L233.26,392.27 L233.68,392.60 L234.10,392.09 L234.52,392.20 L234.94,392.29 L235.36,392.49 L235.78,391.86 L236.20,392.20 L236.62,392.60 L237.04,392.60 L237.46,392.34 L237.88,392.15 L238.30,392.16 L238.72,392.32 L239.14,392.60 L239.56,392.60 L239.98,392.23 L240.40,392.56 L240.82,392.60" fill="none" stroke="#1a1a1a" stroke-width="0.9" stroke-linejoin="round" stroke-linecap="round" />
<path d="M347.50,309.42 L348.05,309.53 L348.60,309.51 L349.15,309.46 L349.70,309.38 L350.25,309.51 L350.80,309.51 L351.35,309.42 L351.90,309.40 L352.45,309.32 L353.00,309.25 L353.55,309.33 L354.10,309.38 L354.65,309.22 L355.20,309.41 L355.75,309.24 L356.30,309.23 L356.85,309.16 L357.40,309.42 L357.95,309.34 L358.50,309.36 L359.05,309.28 L359.60,309.09 L360.15,309.17 L360.70,309.21 L361.25,309.08 L361.80,309.32 L362.35,309.13 L362.90,309.05 L363.45,309.24 L364.00,309.02 L364.55,309.26 L365.10,309.09 L365.65,309.11 L366.20,309.03 L366.75,309.07 L367.30,308.96 L367.85,308.89 L368.40,309.16 L368.95,308.93 L369.50,309.11 L370.05,308.90 L370.60,309.11 L371.15,309.03 L371.70,308.93 L372.25,308.88 L372.80,308.75 L373.35,308.76 L373.90,308.45 L374.45,308.54 L375.00,308.64 L375.55,308.31 L376.10,308.59 L376.65,308.52 L377.20,308.24 L377.75,308.16 L378.30,308.15 L378.85,308.06 L379.40,308.32 L379.95,307.94 L380.50,307.33 L381.05,306.93 L381.60,306.97 L382.15,306.81 L382.70,305.97 L383.25,305.55 L383.80,305.21 L384.35,304.60 L384.90,302.87 L385.45,302.23 L386.00,301.07 L386.55,300.06 L387.10,298.57 L387.65,297.59 L388.20,296.84 L388.75,296.85 L389.30,295.78 L389.85,295.72 L390.40,295.20 L390.95,295.67 L391.50,296.33 L392.05,297.91 L392.60,298.29 L393.15,298.23 L393.70,297.25 L394.25,295.23 L394.80,293.48 L395.35,291.55 L395.90,288.89 L396.45,287.59 L397.00,285.55 L397.55,283.73 L398.10,282.71 L398.65,280.86 L399.20,279.56 L399.75,278.62 L400.30,278.58 L400.85,277.58 L401.40,278.10 L401.95,279.61 L402.50,281.30 L403.05,282.78 L403.60,285.04 L404.15,285.92 L404.70,287.99 L405.25,289.86 L405.80,291.84 L406.35,293.80 L406.90,296.19 L407.45,299.02 L408.00,302.20 L408.55,304.66 L409.10,305.19 L409.65,305.72 L410.20,306.37 L410.75,307.71 L411.30,308.26 L411.85,309.08 L412.40,308.86 L412.95,308.95 L413.50,309.18 L414.05,309.18 L414.60,309.23 L415.15,309.16 L415.70,309.12 L416.25,309.19 L416.80,309.29 L417.35,309.15 L417.90,309.24 L418.45,309.19 L419.00,309.35 L419.55,309.16 L420.10,309.37 L420.65,309.46 L421.20,309.23 L421.75,309.40 L422.30,309.44 L422.85,309.51 L423.40,309.46 L423.95,309.40 L424.50,309.46" fill="none" stroke="#b4b4b4" stroke-width="1.1" stroke-linejoin="round" stroke-linecap="round" />
<path d="M347.50,309.63 L348.05,309.38 L348.60,309.34 L349.15,309.60 L349.70,309.35 L350.25,309.32 L350.80,309.47 L351.35,309.36 L351.90,309.51 L352.45,309.30 L353.00,309.51 L353.55,309.30 L354.10,309.37 L354.65,309.47 L355.20,309.38 L355.75,309.44 L356.30,309.36 L356.85,309.13 L357.40,309.39 L357.95,309.28 L358.50,309.17 L359.05,309.12 L359.60,309.33 L360.15,309.23 L360.70,309.34 L361.25,309.27 L361.80,309.32 L362.35,309.17 L362.90,309.21 L363.45,309.16 L364.00,309.02 L364.55,309.27 L365.10,309.01 L365.65,309.18 L366.20,309.23 L366.75,309.10 L367.30,308.90 L367.85,309.15 L368.40,309.08 L368.95,308.75 L369.50,308.20 L370.05,308.02 L370.60,307.22 L371.15,307.48 L371.70,306.69 L372.25,306.26 L372.80,305.70 L373.35,305.56 L373.90,305.39 L374.45,303.52 L375.00,302.59 L375.55,301.87 L376.10,300.44 L376.65,299.84 L377.20,298.75 L377.75,297.57 L378.30,296.89 L378.85,295.03 L379.40,291.08 L379.95,289.03 L380.50,284.80 L381.05,280.14 L381.60,275.33 L382.15,271.85 L382.70,269.13 L383.25,265.77 L383.80,262.86 L384.35,259.69 L384.90,259.07 L385.45,256.70 L386.00,256.79 L386.55,257.68 L387.10,260.88 L387.65,264.36 L388.20,266.36 L388.75,267.93 L389.30,270.40 L389.85,274.52 L390.40,279.19 L390.95,283.44 L391.50,288.24 L392.05,291.37 L392.60,295.91 L393.15,299.23 L393.70,301.37 L394.25,302.72 L394.80,305.26 L395.35,306.64 L395.90,307.13 L396.45,307.64 L397.00,308.35 L397.55,308.63 L398.10,308.96 L398.65,309.47 L399.20,309.45 L399.75,309.36 L400.30,309.49 L400.85,309.50 L401.40,309.44 L401.95,309.55 L402.50,309.27 L403.05,309.42 L403.60,309.46 L404.15,309.37 L404.70,309.33 L405.25,309.48 L405.80,309.41 L406.35,309.36 L406.90,309.30 L407.45,309.57 L408.00,309.39 L408.55,309.33 L409.10,309.36 L409.65,309.37 L410.20,309.55 L410.75,309.35 L411.30,309.38 L411.85,309.33 L412.40,309.44 L412.95,309.37 L413.50,309.41 L414.05,309.53 L414.60,309.58 L415.15,309.56 L415.70,309.33 L416.25,309.43 L416.80,309.57 L417.35,309.34 L417.90,309.39 L418.45,309.47 L419.00,309.44 L419.55,309.55 L420.10,309.54 L420.65,309.47 L421.20,309.41 L421.75,309.41 L422.30,309.42 L422.85,309.37 L423.40,309.54 L423.95,309.40 L424.50,309.61" fill="none" stroke="#1a1a1a" stroke-width="0.9" stroke-linejoin="round" stroke-linecap="round" />
<path d="M437.50,309.60 L438.05,309.60 L438.60,309.59 L439.15,309.39 L439.70,309.50 L440.25,309.46 L440.80,309.48 L441.35,309.38 L441.90,309.39 L442.45,309.45 L443.00,309.38 L443.55,309.44 L444.10,309.33 L444.65,309.34 L445.20,309.49 L445.75,309.41 L446.30,309.43 L446.85,309.48 L447.40,309.38 L447.95,309.30 L448.50,309.48 L449.05,309.43 L449.60,309.44 L450.15,309.43 L450.70,309.51 L451.25,309.35 L451.80,309.45 L452.35,309.34 L452.90,309.39 L453.45,309.41 L454.00,309.31 L454.55,309.25 L455.10,309.35 L455.65,309.41 L456.20,309.37 L456.75,309.33 L457.30,309.37 L457.85,309.24 L458.40,309.24 L458.95,309.27 L459.50,309.41 L460.05,309.23 L460.60,309.20 L461.15,309.19 L461.70,309.17 L462.25,309.23 L462.80,309.31 L463.35,309.38 L463.90,309.23 L464.45,309.24 L465.00,309.21 L465.55,309.21 L466.10,309.34 L466.65,309.27 L467.20,309.18 L467.75,309.14 L468.30,309.33 L468.85,309.30 L469.40,309.33 L469.95,309.15 L470.50,309.24 L471.05,309.35 L471.60,309.24 L472.15,309.35 L472.70,309.11 L473.25,309.35 L473.80,308.90 L474.35,308.13 L474.90,306.99 L475.45,306.71 L476.00,305.77 L476.55,305.28 L477.10,303.87 L477.65,301.31 L478.20,298.08 L478.75,295.89 L479.30,292.87 L479.85,289.65 L480.40,287.57 L480.95,283.55 L481.50,280.03 L482.05,276.59 L482.60,273.76 L483.15,270.14 L483.70,267.80 L484.25,264.98 L484.80,261.26 L485.35,258.28 L485.90,255.95 L486.45,255.60 L487.00,256.79 L487.55,257.84 L488.10,259.58 L488.65,263.59 L489.20,267.96 L489.75,271.22 L490.30,274.88 L490.85,279.19 L491.40,282.74 L491.95,286.49 L492.50,289.90 L493.05,292.27 L493.60,294.76 L494.15,297.08 L494.70,299.01 L495.25,300.55 L495.80,301.32 L496.35,302.16 L496.90,303.30 L497.45,303.75 L498.00,304.66 L498.55,306.03 L499.10,306.49 L499.65,307.97 L500.20,308.94 L500.75,309.04 L501.30,309.15 L501.85,308.97 L502.40,309.22 L502.95,308.96 L503.50,309.13 L504.05,309.14 L504.60,309.07 L505.15,309.19 L505.70,309.18 L506.25,309.19 L506.80,309.29 L507.35,309.10 L507.90,309.22 L508.45,309.36 L509.00,309.20 L509.55,309.42 L510.10,309.25 L510.65,309.40 L511.20,309.28 L511.75,309.38 L512.30,309.39 L512.85,309.32 L513.40,309.50 L513.95,309.46 L514.50,309.53" fill="none" stroke="#b4b4b4" stroke-width="1.1" stroke-linejoin="round" stroke-linecap="round" />
<path d="M437.50,309.56 L438.05,309.59 L438.60,309.40 L439.15,309.62 L439.70,309.38 L440.25,309.51 L440.80,309.34 L441.35,309.52 L441.90,309.34 L442.45,309.50 L443.00,309.49 L443.55,309.50 L444.10,309.40 L444.65,309.52 L445.20,309.55 L445.75,309.28 L446.30,309.39 L446.85,309.52 L447.40,309.45 L447.95,309.35 L448.50,309.30 L449.05,309.49 L449.60,309.21 L450.15,309.42 L450.70,309.44 L451.25,309.21 L451.80,309.26 L452.35,309.24 L452.90,309.31 L453.45,309.25 L454.00,309.41 L454.55,309.42 L455.10,309.21 L455.65,309.40 L456.20,309.11 L456.75,309.11 L457.30,309.30 L457.85,309.34 L458.40,309.34 L458.95,309.39 L459.50,309.34 L460.05,309.12 L460.60,309.19 L461.15,308.75 L461.70,307.70 L462.25,307.39 L462.80,306.52 L463.35,305.89 L463.90,305.57 L464.45,304.73 L465.00,304.04 L465.55,301.75 L466.10,301.16 L466.65,300.74 L467.20,299.30 L467.75,297.86 L468.30,296.35 L468.85,295.18 L469.40,291.33 L469.95,288.53 L470.50,285.21 L471.05,280.08 L471.60,275.88 L472.15,271.05 L472.70,268.18 L473.25,265.71 L473.80,261.93 L474.35,258.87 L474.90,257.80 L475.45,256.51 L476.00,257.52 L476.55,257.48 L477.10,261.24 L477.65,264.40 L478.20,268.86 L478.75,272.69 L479.30,276.91 L479.85,281.38 L480.40,284.31 L480.95,289.27 L481.50,292.52 L482.05,296.29 L482.60,299.53 L483.15,301.96 L483.70,303.37 L484.25,305.02 L484.80,306.55 L485.35,308.21 L485.90,308.49 L486.45,308.78 L487.00,309.27 L487.55,309.47 L488.10,309.54 L488.65,309.36 L489.20,309.43 L489.75,309.51 L490.30,309.55 L490.85,309.48 L491.40,309.54 L491.95,309.61 L492.50,309.43 L493.05,309.47 L493.60,309.57 L494.15,309.45 L494.70,309.56 L495.25,309.47 L495.80,309.37 L496.35,309.49 L496.90,309.38 L497.45,309.58 L498.00,309.60 L498.55,309.51 L499.10,309.61 L499.65,309.42 L500.20,309.48 L500.75,309.41 L501.30,309.37 L501.85,309.59 L502.40,309.37 L502.95,309.62 L503.50,309.52 L504.05,309.56 L504.60,309.37 L505.15,309.61 L505.70,309.58 L506.25,309.39 L506.80,309.41 L507.35,309.40 L507.90,309.50 L508.45,309.38 L509.00,309.58 L509.55,309.50 L510.10,309.56 L510.65,309.43 L511.20,309.54 L511.75,309.49 L512.30,309.54 L512.85,309.48 L513.40,309.64 L513.95,309.60 L514.50,309.59" fill="none" stroke="#1a1a1a" stroke-width="0.9" stroke-linejoin="round" stroke-linecap="round" />
<path d="M347.50,392.97 L348.05,393.06 L348.60,393.00 L349.15,392.79 L349.70,392.93 L350.25,392.82 L350.80,392.60 L351.35,392.83 L351.90,392.57 L352.45,392.54 L353.00,392.54 L353.55,392.55 L354.10,392.34 L354.65,392.49 L355.20,392.50 L355.75,392.34 L356.30,392.41 L356.85,392.30 L357.40,392.34 L357.95,392.03 L358.50,392.06 L359.05,392.06 L359.60,391.86 L360.15,392.19 L360.70,391.99 L361.25,391.69 L361.80,391.86 L362.35,391.72 L362.90,391.56 L363.45,391.48 L364.00,391.58 L364.55,391.32 L365.10,391.55 L365.65,391.64 L366.20,391.56 L366.75,392.03 L367.30,391.75 L367.85,391.93 L368.40,392.31 L368.95,392.18 L369.50,392.37 L370.05,392.50 L370.60,392.26 L371.15,392.09 L371.70,391.90 L372.25,391.69 L372.80,391.26 L373.35,391.49 L373.90,390.97 L374.45,390.61 L375.00,390.65 L375.55,390.75 L376.10,390.42 L376.65,390.09 L377.20,389.58 L377.75,388.18 L378.30,387.54 L378.85,386.12 L379.40,384.68 L379.95,383.66 L380.50,380.34 L381.05,377.57 L381.60,374.33 L382.15,370.69 L382.70,366.56 L383.25,362.58 L383.80,359.14 L384.35,354.05 L384.90,349.40 L385.45,345.49 L386.00,342.98 L386.55,340.50 L387.10,338.01 L387.65,337.75 L388.20,339.21 L388.75,340.39 L389.30,343.50 L389.85,347.40 L390.40,351.47 L390.95,356.40 L391.50,359.53 L392.05,366.33 L392.60,371.95 L393.15,378.44 L393.70,383.46 L394.25,384.42 L394.80,385.60 L395.35,386.28 L395.90,387.15 L396.45,389.13 L397.00,389.80 L397.55,390.14 L398.10,391.07 L398.65,391.34 L399.20,391.49 L399.75,392.16 L400.30,392.39 L400.85,392.64 L401.40,392.45 L401.95,392.68 L402.50,392.58 L403.05,392.42 L403.60,392.54 L404.15,392.73 L404.70,392.66 L405.25,392.49 L405.80,392.57 L406.35,392.55 L406.90,392.51 L407.45,392.68 L408.00,392.72 L408.55,392.58 L409.10,392.70 L409.65,392.80 L410.20,392.82 L410.75,392.61 L411.30,392.60 L411.85,392.86 L412.40,392.70 L412.95,392.66 L413.50,392.85 L414.05,392.71 L414.60,392.85 L415.15,392.85 L415.70,392.75 L416.25,392.81 L416.80,392.78 L417.35,392.93 L417.90,392.80 L418.45,392.81 L419.00,392.97 L419.55,392.83 L420.10,392.88 L420.65,392.92 L421.20,392.80 L421.75,392.88 L422.30,393.01 L422.85,393.08 L423.40,392.93 L423.95,392.97 L424.50,392.88" fill="none" stroke="#b4b4b4" stroke-width="1.1" stroke-linejoin="round" stroke-linecap="round" />
<path d="M347.50,393.07 L348.05,392.90 L348.60,392.89 L349.15,392.99 L349.70,392.81 L350.25,393.01 L350.80,393.00 L351.35,392.76 L351.90,392.95 L352.45,392.88 L353.00,392.90 L353.55,392.99 L354.10,392.99 L354.65,392.79 L355.20,392.92 L355.75,392.89 L356.30,392.94 L356.85,392.61 L357.40,392.90 L357.95,392.64 L358.50,392.60 L359.05,392.74 L359.60,392.82 L360.15,392.84 L360.70,392.62 L361.25,392.77 L361.80,392.47 L362.35,392.80 L362.90,392.54 L363.45,392.62 L364.00,392.44 L364.55,392.40 L365.10,392.37 L365.65,392.58 L366.20,392.55 L366.75,392.64 L367.30,392.64 L367.85,392.46 L368.40,392.62 L368.95,392.34 L369.50,392.60 L370.05,392.33 L370.60,392.60 L371.15,392.36 L371.70,392.36 L372.25,392.39 L372.80,392.18 L373.35,392.17 L373.90,392.36 L374.45,392.42 L375.00,392.11 L375.55,391.87 L376.10,390.39 L376.65,389.43 L377.20,388.40 L377.75,385.80 L378.30,385.09 L378.85,383.13 L379.40,382.74 L379.95,381.62 L380.50,379.19 L381.05,373.54 L381.60,367.30 L382.15,361.90 L382.70,356.63 L383.25,351.53 L383.80,347.06 L384.35,343.68 L384.90,340.62 L385.45,340.08 L386.00,338.55 L386.55,338.98 L387.10,340.58 L387.65,341.69 L388.20,345.03 L388.75,349.93 L389.30,354.55 L389.85,358.78 L390.40,363.46 L390.95,368.57 L391.50,372.88 L392.05,377.89 L392.60,381.78 L393.15,384.68 L393.70,385.83 L394.25,387.61 L394.80,389.49 L395.35,390.25 L395.90,390.68 L396.45,391.39 L397.00,391.72 L397.55,392.20 L398.10,392.48 L398.65,392.91 L399.20,392.89 L399.75,393.03 L400.30,392.87 L400.85,392.87 L401.40,393.05 L401.95,392.98 L402.50,392.87 L403.05,393.12 L403.60,393.00 L404.15,393.12 L404.70,393.04 L405.25,393.01 L405.80,392.97 L406.35,392.89 L406.90,393.13 L407.45,392.98 L408.00,392.95 L408.55,392.90 L409.10,393.03 L409.65,393.14 L410.20,392.97 L410.75,393.09 L411.30,393.06 L411.85,393.00 L412.40,393.04 L412.95,393.07 L413.50,393.12 L414.05,392.87 L414.60,392.90 L415.15,392.93 L415.70,392.88 L416.25,392.94 L416.80,392.98 L417.35,392.92 L417.90,393.00 L418.45,392.86 L419.00,393.12 L419.55,393.06 L420.10,392.89 L420.65,392.92 L421.20,393.07 L421.75,392.90 L422.30,393.07 L422.85,392.87 L423.40,393.03 L423.95,393.05 L424.50,393.01" fill="none" stroke="#1a1a1a" stroke-width="0.9" stroke-linejoin="round" stroke-linecap="round" />
<path d="M437.50,393.04 L438.05,393.04 L438.60,393.10 L439.15,392.90 L439.70,392.86 L440.25,393.04 L440.80,392.91 L441.35,392.91 L441.90,393.02 L442.45,392.85 L443.00,393.03 L443.55,392.91 L444.10,392.79 L444.65,393.01 L445.20,392.91 L445.75,392.77 L446.30,392.96 L446.85,392.94 L447.40,392.92 L447.95,392.89 L448.50,392.97 L449.05,392.70 L449.60,392.96 L450.15,392.86 L450.70,392.74 L451.25,392.83 L451.80,392.75 L452.35,392.83 L452.90,392.83 L453.45,392.78 L454.00,392.65 L454.55,392.72 L455.10,392.69 L455.65,392.81 L456.20,392.86 L456.75,392.80 L457.30,392.72 L457.85,392.61 L458.40,392.76 L458.95,392.62 L459.50,392.83 L460.05,392.57 L460.60,392.81 L461.15,392.51 L461.70,392.74 L462.25,392.59 L462.80,392.66 L463.35,392.60 L463.90,392.56 L464.45,392.59 L465.00,392.70 L465.55,392.55 L466.10,392.54 L466.65,392.67 L467.20,392.46 L467.75,392.51 L468.30,392.56 L468.85,392.55 L469.40,392.43 L469.95,392.62 L470.50,392.52 L471.05,392.38 L471.60,392.45 L472.15,392.13 L472.70,391.46 L473.25,390.53 L473.80,389.84 L474.35,389.35 L474.90,388.76 L475.45,387.04 L476.00,384.58 L476.55,381.99 L477.10,379.42 L477.65,377.15 L478.20,373.67 L478.75,371.50 L479.30,366.50 L479.85,362.17 L480.40,357.19 L480.95,351.64 L481.50,346.66 L482.05,342.47 L482.60,336.80 L483.15,332.80 L483.70,329.45 L484.25,332.95 L484.80,335.72 L485.35,338.94 L485.90,343.73 L486.45,350.14 L487.00,355.41 L487.55,359.87 L488.10,364.31 L488.65,368.42 L489.20,372.96 L489.75,376.78 L490.30,378.32 L490.85,380.54 L491.40,383.30 L491.95,384.72 L492.50,386.61 L493.05,386.76 L493.60,388.67 L494.15,389.17 L494.70,390.22 L495.25,391.51 L495.80,391.98 L496.35,391.95 L496.90,392.44 L497.45,392.81 L498.00,392.89 L498.55,393.00 L499.10,392.95 L499.65,392.99 L500.20,393.08 L500.75,392.98 L501.30,392.95 L501.85,392.93 L502.40,393.08 L502.95,392.92 L503.50,393.05 L504.05,393.12 L504.60,393.05 L505.15,393.10 L505.70,392.91 L506.25,393.03 L506.80,393.03 L507.35,392.90 L507.90,392.98 L508.45,392.95 L509.00,392.91 L509.55,392.98 L510.10,392.90 L510.65,393.10 L511.20,392.92 L511.75,393.01 L512.30,393.05 L512.85,392.88 L513.40,393.11 L513.95,393.10 L514.50,393.02" fill="none" stroke="#b4b4b4" stroke-width="1.1" stroke-linejoin="round" stroke-linecap="round" />
<path d="M437.50,392.89 L438.05,392.89 L438.60,393.01 L439.15,392.88 L439.70,392.85 L440.25,392.94 L440.80,392.91 L441.35,392.84 L441.90,392.88 L442.45,393.01 L443.00,392.78 L443.55,392.79 L444.10,392.73 L444.65,392.78 L445.20,392.73 L445.75,393.00 L446.30,392.77 L446.85,392.98 L447.40,392.69 L447.95,392.93 L448.50,392.79 L449.05,392.84 L449.60,392.82 L450.15,392.68 L450.70,392.66 L451.25,392.80 L451.80,392.60 L452.35,392.55 L452.90,392.80 L453.45,392.74 L454.00,392.60 L454.55,392.68 L455.10,392.81 L455.65,392.58 L456.20,392.51 L456.75,392.60 L457.30,392.50 L457.85,392.56 L458.40,392.43 L458.95,392.69 L459.50,392.70 L460.05,392.52 L460.60,392.51 L461.15,392.46 L461.70,392.72 L462.25,392.68 L462.80,392.58 L463.35,392.38 L463.90,392.17 L464.45,391.46 L465.00,389.96 L465.55,389.44 L466.10,388.08 L466.65,386.50 L467.20,385.49 L467.75,384.89 L468.30,382.47 L468.85,381.36 L469.40,379.88 L469.95,377.77 L470.50,375.81 L471.05,372.01 L471.60,367.51 L472.15,362.91 L472.70,358.63 L473.25,355.03 L473.80,352.02 L474.35,349.39 L474.90,345.81 L475.45,344.18 L476.00,342.17 L476.55,341.72 L477.10,343.41 L477.65,344.07 L478.20,347.37 L478.75,351.52 L479.30,355.57 L479.85,360.32 L480.40,364.27 L480.95,368.04 L481.50,371.34 L482.05,376.72 L482.60,379.86 L483.15,382.47 L483.70,384.10 L484.25,385.89 L484.80,387.58 L485.35,389.47 L485.90,390.54 L486.45,390.76 L487.00,391.46 L487.55,392.06 L488.10,392.35 L488.65,393.07 L489.20,392.91 L489.75,393.09 L490.30,393.11 L490.85,392.99 L491.40,392.95 L491.95,393.00 L492.50,393.11 L493.05,393.13 L493.60,393.06 L494.15,392.97 L494.70,392.97 L495.25,393.06 L495.80,392.95 L496.35,393.08 L496.90,392.96 L497.45,393.02 L498.00,393.01 L498.55,393.01 L499.10,393.10 L499.65,393.11 L500.20,393.08 L500.75,393.04 L501.30,392.97 L501.85,392.97 L502.40,392.99 L502.95,393.10 L503.50,393.07 L504.05,392.89 L504.60,392.93 L505.15,392.88 L505.70,392.95 L506.25,393.09 L506.80,393.04 L507.35,392.87 L507.90,393.07 L508.45,393.03 L509.00,392.99 L509.55,392.87 L510.10,392.86 L510.65,392.88 L511.20,393.11 L511.75,392.97 L512.30,392.88 L512.85,393.09 L513.40,393.00 L513.95,392.96 L514.50,392.97" fill="none" stroke="#1a1a1a" stroke-width="0.9" stroke-linejoin="round" stroke-linecap="round" />
<text x="24.5" y="453.8" font-size="14" text-anchor="start" font-weight="bold" fill="#000" letter-spacing="0.3" style="stroke-width:0.4px">ii</text>
<text x="308.2" y="454.2" font-size="14" text-anchor="start" font-weight="bold" fill="#000" letter-spacing="0.3" style="stroke-width:0.4px">ii</text>
<line x1="66.9" y1="455.5" x2="241.2" y2="455.5" stroke="#a0a0a0" stroke-width="1.0" />
<line x1="241.2" y1="455.5" x2="241.2" y2="560.0" stroke="#a0a0a0" stroke-width="1.0" />
<line x1="66.9" y1="455.5" x2="66.9" y2="560.0" stroke="#8a8a8a" stroke-width="1.3" />
<line x1="66.9" y1="560.0" x2="241.2" y2="560.0" stroke="#8a8a8a" stroke-width="1.3" />
<line x1="65.4" y1="560.0" x2="66.9" y2="560.0" stroke="#999" stroke-width="1.0" />
<text x="59.9" y="563.9" font-size="11" text-anchor="end" font-weight="normal" fill="#000" >0</text>
<line x1="65.4" y1="545.0714285714286" x2="66.9" y2="545.0714285714286" stroke="#999" stroke-width="1.0" />
<text x="59.9" y="548.9714285714285" font-size="11" text-anchor="end" font-weight="normal" fill="#000" >20</text>
<line x1="65.4" y1="530.1428571428571" x2="66.9" y2="530.1428571428571" stroke="#999" stroke-width="1.0" />
<text x="59.9" y="534.0428571428571" font-size="11" text-anchor="end" font-weight="normal" fill="#000" >40</text>
<line x1="65.4" y1="515.2142857142857" x2="66.9" y2="515.2142857142857" stroke="#999" stroke-width="1.0" />
<text x="59.9" y="519.1142857142856" font-size="11" text-anchor="end" font-weight="normal" fill="#000" >60</text>
<line x1="65.4" y1="500.2857142857143" x2="66.9" y2="500.2857142857143" stroke="#999" stroke-width="1.0" />
<text x="59.9" y="504.18571428571425" font-size="11" text-anchor="end" font-weight="normal" fill="#000" >80</text>
<line x1="65.4" y1="485.3571428571429" x2="66.9" y2="485.3571428571429" stroke="#999" stroke-width="1.0" />
<text x="59.9" y="489.25714285714287" font-size="11" text-anchor="end" font-weight="normal" fill="#000" >100</text>
<line x1="65.4" y1="470.42857142857144" x2="66.9" y2="470.42857142857144" stroke="#999" stroke-width="1.0" />
<text x="59.9" y="474.3285714285714" font-size="11" text-anchor="end" font-weight="normal" fill="#000" >120</text>
<line x1="65.4" y1="455.5" x2="66.9" y2="455.5" stroke="#999" stroke-width="1.0" />
<text x="59.9" y="459.4" font-size="11" text-anchor="end" font-weight="normal" fill="#000" >140</text>
<rect x="79.7" y="551.3414285714285" width="16.0" height="8.658571428571463" fill="#fff" stroke="#484848" stroke-width="1.0" />
<rect x="95.7" y="551.7892857142857" width="17.0" height="8.210714285714289" fill="#000" stroke="#484848" stroke-width="1.0" />
<rect x="137.4" y="509.16821428571427" width="16.900000000000006" height="50.83178571428573" fill="#fff" stroke="#484848" stroke-width="1.0" />
<line x1="145.85000000000002" y1="509.16821428571427" x2="145.85000000000002" y2="501.70392857142855" stroke="#555" stroke-width="1.0" />
<line x1="145.05" y1="501.70392857142855" x2="146.65000000000003" y2="501.70392857142855" stroke="#555" stroke-width="0.8" />
<rect x="154.3" y="549.7739285714285" width="16.299999999999983" height="10.226071428571458" fill="#000" stroke="#484848" stroke-width="1.0" />
<rect x="196.1" y="471.6975" width="15.700000000000017" height="88.30250000000001" fill="#fff" stroke="#484848" stroke-width="1.0" />
<line x1="203.95" y1="471.6975" x2="203.95" y2="467.81607142857143" stroke="#555" stroke-width="1.0" />
<line x1="203.14999999999998" y1="467.81607142857143" x2="204.75" y2="467.81607142857143" stroke="#555" stroke-width="0.8" />
<rect x="211.8" y="499.9871428571428" width="16.5" height="60.01285714285717" fill="#000" stroke="#484848" stroke-width="1.0" />
<rect x="75.4" y="463.5" width="37.3" height="31.69999999999999" fill="#fff" stroke="#777" stroke-width="1.0" />
<rect x="80.7" y="468.8" width="8.7" height="6.6" fill="#fff" stroke="#666" stroke-width="1.0" />
<rect x="80.4" y="482.9" width="8.8" height="7.0" fill="#000" stroke="#000" stroke-width="0.6" />
<text x="96.6" y="474.7" font-size="6.6" text-anchor="start" font-weight="bold" fill="#000" >WT</text>
<text x="96.6" y="489" font-size="6.6" text-anchor="start" font-weight="bold" fill="#000" >KO</text>
<path d="M145.6,497.4 L145.6,489.5 L162.3,489.5 L162.3,545.7" fill="none" stroke="#222" stroke-width="1.0" stroke-linejoin="round" stroke-linecap="round" />
<polygon points="152.50,483.20 153.24,484.98 155.16,485.13 153.70,486.39 154.15,488.27 152.50,487.26 150.85,488.27 151.30,486.39 149.84,485.13 151.76,484.98" fill="#111"/>
<polygon points="157.60,483.20 158.34,484.98 160.26,485.13 158.80,486.39 159.25,488.27 157.60,487.26 155.95,488.27 156.40,486.39 154.94,485.13 156.86,484.98" fill="#111"/>
<path d="M203.3,465.2 L203.3,463.5 L220,463.5 L220,495.8" fill="none" stroke="#222" stroke-width="1.1" stroke-linejoin="round" stroke-linecap="round" />
<polygon points="213.50,456.90 214.27,458.74 216.26,458.90 214.74,460.20 215.20,462.15 213.50,461.11 211.80,462.15 212.26,460.20 210.74,458.90 212.73,458.74" fill="#111"/>
<text transform="translate(36.5,503.6) rotate(-90)" font-size="11" text-anchor="middle">P-selectin MFI</text>
<text x="96" y="576.2" font-size="11" text-anchor="middle" font-weight="normal" fill="#000" >resting</text>
<text x="153.6" y="576.3" font-size="11" text-anchor="middle" font-weight="normal" fill="#000" >CRP</text>
<text x="212.3" y="576.3" font-size="11" text-anchor="middle" font-weight="normal" fill="#000" >thrombin</text>
<line x1="348.9" y1="455.7" x2="518.7" y2="455.7" stroke="#a0a0a0" stroke-width="1.0" />
<line x1="518.7" y1="455.7" x2="518.7" y2="558.2" stroke="#a0a0a0" stroke-width="1.0" />
<line x1="348.9" y1="455.7" x2="348.9" y2="558.2" stroke="#8a8a8a" stroke-width="1.3" />
<line x1="348.9" y1="558.2" x2="518.7" y2="558.2" stroke="#8a8a8a" stroke-width="1.3" />
<line x1="347.4" y1="558.2" x2="348.9" y2="558.2" stroke="#999" stroke-width="1.0" />
<text x="343.3" y="562.1" font-size="11" text-anchor="end" font-weight="normal" fill="#000" >0</text>
<line x1="347.4" y1="532.575" x2="348.9" y2="532.575" stroke="#999" stroke-width="1.0" />
<text x="343.3" y="536.475" font-size="11" text-anchor="end" font-weight="normal" fill="#000" >1</text>
<line x1="347.4" y1="506.95000000000005" x2="348.9" y2="506.95000000000005" stroke="#999" stroke-width="1.0" />
<text x="343.3" y="510.85" font-size="11" text-anchor="end" font-weight="normal" fill="#000" >2</text>
<line x1="347.4" y1="481.325" x2="348.9" y2="481.325" stroke="#999" stroke-width="1.0" />
<text x="343.3" y="485.22499999999997" font-size="11" text-anchor="end" font-weight="normal" fill="#000" >3</text>
<line x1="347.4" y1="455.7" x2="348.9" y2="455.7" stroke="#999" stroke-width="1.0" />
<text x="343.3" y="459.59999999999997" font-size="11" text-anchor="end" font-weight="normal" fill="#000" >4</text>
<rect x="361.5" y="532.575" width="15.699999999999989" height="25.625" fill="#fff" stroke="#484848" stroke-width="1.0" />
<rect x="377.2" y="532.575" width="16.5" height="25.625" fill="#000" stroke="#484848" stroke-width="1.0" />
<rect x="417.8" y="476.45625" width="16.69999999999999" height="81.74375000000003" fill="#fff" stroke="#484848" stroke-width="1.0" />
<line x1="426.15" y1="476.45625" x2="426.15" y2="469.358125" stroke="#555" stroke-width="1.0" />
<line x1="425.34999999999997" y1="469.358125" x2="426.95" y2="469.358125" stroke="#555" stroke-width="0.8" />
<rect x="434.5" y="525.8100000000001" width="16.0" height="32.389999999999986" fill="#000" stroke="#484848" stroke-width="1.0" />
<rect x="474.9" y="488.295" width="16.5" height="69.90500000000003" fill="#fff" stroke="#484848" stroke-width="1.0" />
<line x1="483.15" y1="488.295" x2="483.15" y2="481.47875" stroke="#555" stroke-width="1.0" />
<line x1="482.34999999999997" y1="481.47875" x2="483.95" y2="481.47875" stroke="#555" stroke-width="0.8" />
<rect x="491.4" y="503.20875" width="16.100000000000023" height="54.991250000000036" fill="#000" stroke="#484848" stroke-width="1.0" />
<line x1="499.45" y1="503.20875" x2="499.45" y2="500.313125" stroke="#555" stroke-width="1.0" />
<line x1="498.65" y1="500.313125" x2="500.25" y2="500.313125" stroke="#555" stroke-width="0.8" />
<rect x="356.5" y="463.5" width="40.30000000000001" height="34.10000000000002" fill="#fff" stroke="#777" stroke-width="1.0" />
<rect x="362.5" y="468.8" width="8.9" height="7.3" fill="#fff" stroke="#666" stroke-width="1.0" />
<rect x="362.2" y="484.5" width="9.2" height="7.5" fill="#000" stroke="#000" stroke-width="0.6" />
<text x="378.8" y="475.6" font-size="6.8" text-anchor="start" font-weight="bold" fill="#000" >WT</text>
<text x="378.8" y="491.1" font-size="6.8" text-anchor="start" font-weight="bold" fill="#000" >KO</text>
<path d="M425.8,465.5 L425.8,463.2 L442.7,463.2 L442.7,520" fill="none" stroke="#222" stroke-width="1.1" stroke-linejoin="round" stroke-linecap="round" />
<polygon points="433.50,456.80 434.27,458.64 436.26,458.80 434.74,460.10 435.20,462.05 433.50,461.00 431.80,462.05 432.26,460.10 430.74,458.80 432.73,458.64" fill="#111"/>
<polygon points="438.70,456.80 439.47,458.64 441.46,458.80 439.94,460.10 440.40,462.05 438.70,461.00 437.00,462.05 437.46,460.10 435.94,458.80 437.93,458.64" fill="#111"/>
<text transform="translate(315.9,508.4) rotate(-90)" font-size="11" text-anchor="middle">Fold increase in</text>
<text transform="translate(328.6,509.6) rotate(-90)" font-size="10.8" text-anchor="middle">JON/A binding</text>
<text x="377.2" y="576.2" font-size="11" text-anchor="middle" font-weight="normal" fill="#000" >resting</text>
<text x="434.4" y="575.4" font-size="11" text-anchor="middle" font-weight="normal" fill="#000" >CRP</text>
<text x="493" y="575.4" font-size="11" text-anchor="middle" font-weight="normal" fill="#000" >thrombin</text>
</svg>
</body></html>
